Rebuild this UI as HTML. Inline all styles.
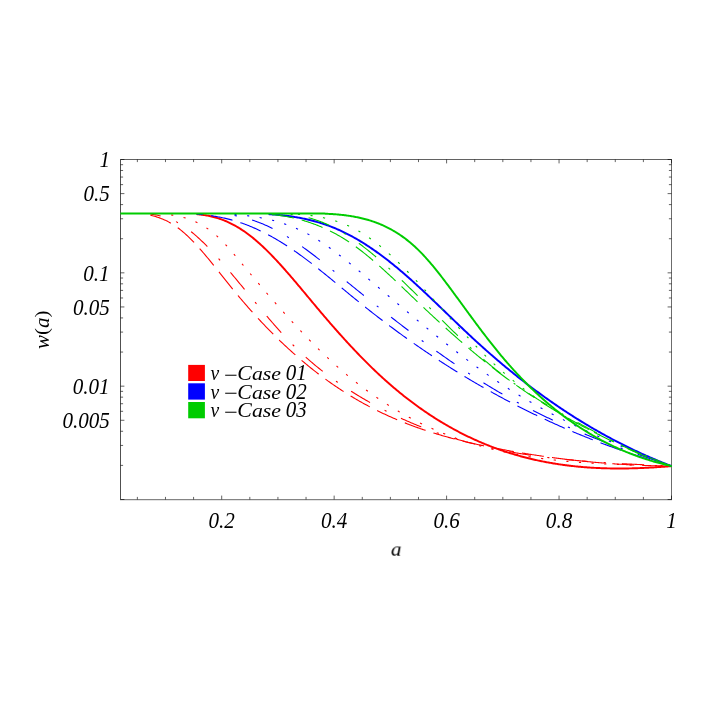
<!DOCTYPE html>
<html><head><meta charset="utf-8"><title>w(a)</title>
<style>
html,body{margin:0;padding:0;background:#fff;}
body{width:708px;height:708px;position:relative;overflow:hidden;font-family:"Liberation Serif",serif;}
</style></head><body>
<svg width="708" height="708" viewBox="0 0 708 708" style="position:absolute;left:0;top:0;will-change:transform">
<rect x="0" y="0" width="708" height="708" fill="#ffffff"/>
<g fill="none" stroke-width="1" stroke-linecap="square">
<path d="M120.5,159.5 V499.5" stroke="#505050"/>
<path d="M120.5,159.5 H671.5" stroke="#626262"/>
<path d="M671.5,159.5 V499.5" stroke="#6c6c6c"/>
<path d="M120.5,499.7 H671.5" stroke="#686868"/>
</g>
<g stroke="#000" stroke-width="0.62" fill="none">
<path d="M137.37,499.5 v-2.6 M137.37,159.5 v2.6 M165.48,499.5 v-2.6 M165.48,159.5 v2.6 M193.59,499.5 v-2.6 M193.59,159.5 v2.6 M221.70,499.5 v-3.9 M221.70,159.5 v3.9 M249.82,499.5 v-2.6 M249.82,159.5 v2.6 M277.93,499.5 v-2.6 M277.93,159.5 v2.6 M306.04,499.5 v-2.6 M306.04,159.5 v2.6 M334.15,499.5 v-3.9 M334.15,159.5 v3.9 M362.27,499.5 v-2.6 M362.27,159.5 v2.6 M390.38,499.5 v-2.6 M390.38,159.5 v2.6 M418.49,499.5 v-2.6 M418.49,159.5 v2.6 M446.60,499.5 v-3.9 M446.60,159.5 v3.9 M474.71,499.5 v-2.6 M474.71,159.5 v2.6 M502.83,499.5 v-2.6 M502.83,159.5 v2.6 M530.94,499.5 v-2.6 M530.94,159.5 v2.6 M559.05,499.5 v-3.9 M559.05,159.5 v3.9 M587.16,499.5 v-2.6 M587.16,159.5 v2.6 M615.28,499.5 v-2.6 M615.28,159.5 v2.6 M643.39,499.5 v-2.6 M643.39,159.5 v2.6 M671.50,499.5 v-3.9 M671.50,159.5 v3.9 M120.5,159.50 h3.9 M671.5,159.50 h-3.9 M120.5,272.83 h3.9 M671.5,272.83 h-3.9 M120.5,238.72 h2.6 M671.5,238.72 h-2.6 M120.5,218.76 h2.6 M671.5,218.76 h-2.6 M120.5,204.60 h2.6 M671.5,204.60 h-2.6 M120.5,193.62 h3.9 M671.5,193.62 h-3.9 M120.5,184.64 h2.6 M671.5,184.64 h-2.6 M120.5,177.06 h2.6 M671.5,177.06 h-2.6 M120.5,170.48 h2.6 M671.5,170.48 h-2.6 M120.5,164.69 h2.6 M671.5,164.69 h-2.6 M120.5,386.17 h3.9 M671.5,386.17 h-3.9 M120.5,352.05 h2.6 M671.5,352.05 h-2.6 M120.5,332.09 h2.6 M671.5,332.09 h-2.6 M120.5,317.93 h2.6 M671.5,317.93 h-2.6 M120.5,306.95 h3.9 M671.5,306.95 h-3.9 M120.5,297.98 h2.6 M671.5,297.98 h-2.6 M120.5,290.39 h2.6 M671.5,290.39 h-2.6 M120.5,283.82 h2.6 M671.5,283.82 h-2.6 M120.5,278.02 h2.6 M671.5,278.02 h-2.6 M120.5,499.50 h3.9 M671.5,499.50 h-3.9 M120.5,465.38 h2.6 M671.5,465.38 h-2.6 M120.5,445.43 h2.6 M671.5,445.43 h-2.6 M120.5,431.27 h2.6 M671.5,431.27 h-2.6 M120.5,420.28 h3.9 M671.5,420.28 h-3.9 M120.5,411.31 h2.6 M671.5,411.31 h-2.6 M120.5,403.72 h2.6 M671.5,403.72 h-2.6 M120.5,397.15 h2.6 M671.5,397.15 h-2.6 M120.5,391.35 h2.6 M671.5,391.35 h-2.6"/>
</g>
<clipPath id="cp"><rect x="120.2" y="159.5" width="551.9" height="340.0"/></clipPath>
<g clip-path="url(#cp)" fill="none" stroke-linecap="butt" stroke-linejoin="round">
<path d="M196.5,214.12 L197.5,214.21 L198.5,214.32 L199.5,214.43 L200.5,214.55 L201.5,214.67 L202.5,214.81 L203.5,214.96 L204.5,215.11 L205.5,215.28 L206.5,215.45 L207.5,215.64 L208.5,215.83 L209.5,216.04 L210.5,216.25 L211.5,216.48 L212.5,216.72 L213.5,216.97 L214.5,217.24 L215.5,217.52 L216.5,217.80 L217.5,218.11 L218.5,218.42 L219.5,218.75 L220.5,219.10 L221.5,219.45 L222.5,219.83 L223.5,220.21 L224.5,220.61 L225.5,221.02 L226.5,221.45 L227.5,221.89 L228.5,222.35 L229.5,222.82 L230.5,223.30 L231.5,223.80 L232.5,224.31 L233.5,224.84 L234.5,225.38 L235.5,225.93 L236.5,226.50 L237.5,227.08 L238.5,227.68 L239.5,228.29 L240.5,228.92 L241.5,229.56 L242.5,230.21 L243.5,230.88 L244.5,231.57 L245.5,232.27 L246.5,232.98 L247.5,233.71 L248.5,234.45 L249.5,235.21 L250.5,235.98 L251.5,236.77 L252.5,237.57 L253.5,238.38 L254.5,239.21 L255.5,240.05 L256.5,240.91 L257.5,241.78 L258.5,242.66 L259.5,243.55 L260.5,244.46 L261.5,245.38 L262.5,246.31 L263.5,247.25 L264.5,248.20 L265.5,249.17 L266.5,250.14 L267.5,251.13 L268.5,252.12 L269.5,253.13 L270.5,254.14 L271.5,255.17 L272.5,256.20 L273.5,257.24 L274.5,258.30 L275.5,259.36 L276.5,260.43 L277.5,261.50 L278.5,262.59 L279.5,263.68 L280.5,264.78 L281.5,265.89 L282.5,267.00 L283.5,268.12 L284.5,269.25 L285.5,270.38 L286.5,271.52 L287.5,272.66 L288.5,273.81 L289.5,274.96 L290.5,276.12 L291.5,277.28 L292.5,278.45 L293.5,279.62 L294.5,280.80 L295.5,281.97 L296.5,283.16 L297.5,284.34 L298.5,285.53 L299.5,286.72 L300.5,287.91 L301.5,289.10 L302.5,290.30 L303.5,291.50 L304.5,292.70 L305.5,293.90 L306.5,295.10 L307.5,296.30 L308.5,297.50 L309.5,298.70 L310.5,299.90 L311.5,301.10 L312.5,302.30 L313.5,303.50 L314.5,304.70 L315.5,305.89 L316.5,307.09 L317.5,308.28 L318.5,309.47 L319.5,310.66 L320.5,311.84 L321.5,313.02 L322.5,314.20 L323.5,315.38 L324.5,316.55 L325.5,317.72 L326.5,318.88 L327.5,320.05 L328.5,321.21 L329.5,322.36 L330.5,323.52 L331.5,324.67 L332.5,325.81 L333.5,326.96 L334.5,328.10 L335.5,329.23 L336.5,330.37 L337.5,331.49 L338.5,332.62 L339.5,333.74 L340.5,334.86 L341.5,335.97 L342.5,337.08 L343.5,338.19 L344.5,339.29 L345.5,340.39 L346.5,341.48 L347.5,342.57 L348.5,343.66 L349.5,344.74 L350.5,345.81 L351.5,346.89 L352.5,347.95 L353.5,349.02 L354.5,350.08 L355.5,351.13 L356.5,352.18 L357.5,353.23 L358.5,354.27 L359.5,355.31 L360.5,356.34 L361.5,357.36 L362.5,358.39 L363.5,359.40 L364.5,360.41 L365.5,361.42 L366.5,362.42 L367.5,363.42 L368.5,364.41 L369.5,365.40 L370.5,366.38 L371.5,367.35 L372.5,368.33 L373.5,369.29 L374.5,370.25 L375.5,371.20 L376.5,372.15 L377.5,373.10 L378.5,374.03 L379.5,374.97 L380.5,375.89 L381.5,376.81 L382.5,377.73 L383.5,378.64 L384.5,379.54 L385.5,380.44 L386.5,381.33 L387.5,382.22 L388.5,383.10 L389.5,383.97 L390.5,384.84 L391.5,385.71 L392.5,386.56 L393.5,387.42 L394.5,388.26 L395.5,389.11 L396.5,389.94 L397.5,390.77 L398.5,391.60 L399.5,392.42 L400.5,393.23 L401.5,394.04 L402.5,394.85 L403.5,395.65 L404.5,396.44 L405.5,397.23 L406.5,398.01 L407.5,398.79 L408.5,399.56 L409.5,400.32 L410.5,401.09 L411.5,401.84 L412.5,402.59 L413.5,403.34 L414.5,404.08 L415.5,404.81 L416.5,405.54 L417.5,406.27 L418.5,406.99 L419.5,407.70 L420.5,408.41 L421.5,409.12 L422.5,409.82 L423.5,410.51 L424.5,411.20 L425.5,411.88 L426.5,412.56 L427.5,413.24 L428.5,413.91 L429.5,414.57 L430.5,415.23 L431.5,415.88 L432.5,416.53 L433.5,417.18 L434.5,417.82 L435.5,418.45 L436.5,419.08 L437.5,419.71 L438.5,420.33 L439.5,420.94 L440.5,421.55 L441.5,422.16 L442.5,422.76 L443.5,423.36 L444.5,423.95 L445.5,424.53 L446.5,425.12 L447.5,425.69 L448.5,426.27 L449.5,426.83 L450.5,427.40 L451.5,427.96 L452.5,428.51 L453.5,429.06 L454.5,429.60 L455.5,430.14 L456.5,430.68 L457.5,431.21 L458.5,431.74 L459.5,432.26 L460.5,432.78 L461.5,433.29 L462.5,433.80 L463.5,434.30 L464.5,434.80 L465.5,435.30 L466.5,435.79 L467.5,436.28 L468.5,436.76 L469.5,437.24 L470.5,437.71 L471.5,438.18 L472.5,438.64 L473.5,439.10 L474.5,439.56 L475.5,440.01 L476.5,440.46 L477.5,440.90 L478.5,441.34 L479.5,441.78 L480.5,442.21 L481.5,442.64 L482.5,443.06 L483.5,443.48 L484.5,443.89 L485.5,444.30 L486.5,444.71 L487.5,445.11 L488.5,445.51 L489.5,445.90 L490.5,446.29 L491.5,446.68 L492.5,447.06 L493.5,447.44 L494.5,447.81 L495.5,448.18 L496.5,448.55 L497.5,448.91 L498.5,449.27 L499.5,449.63 L500.5,449.98 L501.5,450.32 L502.5,450.67 L503.5,451.00 L504.5,451.34 L505.5,451.67 L506.5,452.00 L507.5,452.32 L508.5,452.64 L509.5,452.96 L510.5,453.27 L511.5,453.58 L512.5,453.89 L513.5,454.19 L514.5,454.49 L515.5,454.78 L516.5,455.07 L517.5,455.36 L518.5,455.64 L519.5,455.92 L520.5,456.20 L521.5,456.47 L522.5,456.74 L523.5,457.01 L524.5,457.27 L525.5,457.53 L526.5,457.78 L527.5,458.03 L528.5,458.28 L529.5,458.53 L530.5,458.77 L531.5,459.01 L532.5,459.24 L533.5,459.47 L534.5,459.70 L535.5,459.93 L536.5,460.15 L537.5,460.37 L538.5,460.58 L539.5,460.79 L540.5,461.00 L541.5,461.21 L542.5,461.41 L543.5,461.61 L544.5,461.80 L545.5,461.99 L546.5,462.18 L547.5,462.37 L548.5,462.55 L549.5,462.73 L550.5,462.91 L551.5,463.08 L552.5,463.25 L553.5,463.42 L554.5,463.58 L555.5,463.75 L556.5,463.90 L557.5,464.06 L558.5,464.21 L559.5,464.36 L560.5,464.51 L561.5,464.65 L562.5,464.79 L563.5,464.93 L564.5,465.06 L565.5,465.20 L566.5,465.33 L567.5,465.45 L568.5,465.58 L569.5,465.70 L570.5,465.81 L571.5,465.93 L572.5,466.04 L573.5,466.15 L574.5,466.26 L575.5,466.36 L576.5,466.46 L577.5,466.56 L578.5,466.66 L579.5,466.75 L580.5,466.84 L581.5,466.93 L582.5,467.02 L583.5,467.10 L584.5,467.18 L585.5,467.26 L586.5,467.33 L587.5,467.41 L588.5,467.48 L589.5,467.54 L590.5,467.61 L591.5,467.67 L592.5,467.73 L593.5,467.79 L594.5,467.85 L595.5,467.90 L596.5,467.95 L597.5,468.00 L598.5,468.05 L599.5,468.09 L600.5,468.13 L601.5,468.17 L602.5,468.21 L603.5,468.24 L604.5,468.27 L605.5,468.30 L606.5,468.33 L607.5,468.36 L608.5,468.38 L609.5,468.40 L610.5,468.42 L611.5,468.44 L612.5,468.45 L613.5,468.47 L614.5,468.48 L615.5,468.48 L616.5,468.49 L617.5,468.49 L618.5,468.50 L619.5,468.50 L620.5,468.50 L621.5,468.49 L622.5,468.49 L623.5,468.48 L624.5,468.47 L625.5,468.46 L626.5,468.44 L627.5,468.43 L628.5,468.41 L629.5,468.39 L630.5,468.37 L631.5,468.35 L632.5,468.32 L633.5,468.30 L634.5,468.27 L635.5,468.24 L636.5,468.21 L637.5,468.17 L638.5,468.14 L639.5,468.10 L640.5,468.06 L641.5,468.02 L642.5,467.98 L643.5,467.93 L644.5,467.89 L645.5,467.84 L646.5,467.79 L647.5,467.74 L648.5,467.69 L649.5,467.64 L650.5,467.58 L651.5,467.53 L652.5,467.47 L653.5,467.41 L654.5,467.35 L655.5,467.28 L656.5,467.22 L657.5,467.15 L658.5,467.09 L659.5,467.02 L660.5,466.95 L661.5,466.88 L662.5,466.81 L663.5,466.73 L664.5,466.66 L665.5,466.58 L666.5,466.50 L667.5,466.42 L668.5,466.34 L669.5,466.26 L670.5,466.18 L671.5,466.10 L672.1,466.10" stroke="#ff0000" stroke-width="1.95"/>
<path d="M163.5,214.09 L164.5,214.18 L165.5,214.26 L166.5,214.36 L167.5,214.46 L168.5,214.57 L169.5,214.69 L170.5,214.82 L171.5,214.96 L172.5,215.11 L173.5,215.27 L174.5,215.43 L175.5,215.61 L176.5,215.80 L177.5,216.00 L178.5,216.21 L179.5,216.43 L180.5,216.66 L181.5,216.91 L182.5,217.17 L183.5,217.44 L184.5,217.72 L185.5,218.02 L186.5,218.33 L187.5,218.65 L188.5,218.99 L189.5,219.35 L190.5,219.72 L191.5,220.10 L192.5,220.50 L193.5,220.92 L194.5,221.35 L195.5,221.80 L196.5,222.27 L197.5,222.75 L198.5,223.25 L199.5,223.77 L200.5,224.31 L201.5,224.87 L202.5,225.44 L203.5,226.04 L204.5,226.65 L205.5,227.29 L206.5,227.94 L207.5,228.62 L208.5,229.32 L209.5,230.04 L210.5,230.78 L211.5,231.54 L212.5,232.32 L213.5,233.13 L214.5,233.96 L215.5,234.82 L216.5,235.70 L217.5,236.60 L218.5,237.53 L219.5,238.48 L220.5,239.45 L221.5,240.44 L222.5,241.46 L223.5,242.49 L224.5,243.54 L225.5,244.60 L226.5,245.69 L227.5,246.78 L228.5,247.89 L229.5,249.02 L230.5,250.16 L231.5,251.30 L232.5,252.46 L233.5,253.63 L234.5,254.80 L235.5,255.99 L236.5,257.18 L237.5,258.37 L238.5,259.57 L239.5,260.77 L240.5,261.97 L241.5,263.18 L242.5,264.39 L243.5,265.59 L244.5,266.79 L245.5,268.00 L246.5,269.20 L247.5,270.40 L248.5,271.59 L249.5,272.79 L250.5,273.99 L251.5,275.18 L252.5,276.37 L253.5,277.56 L254.5,278.75 L255.5,279.93 L256.5,281.12 L257.5,282.30 L258.5,283.48 L259.5,284.66 L260.5,285.84 L261.5,287.01 L262.5,288.18 L263.5,289.35 L264.5,290.52 L265.5,291.69 L266.5,292.85 L267.5,294.01 L268.5,295.17 L269.5,296.33 L270.5,297.48 L271.5,298.63 L272.5,299.78 L273.5,300.92 L274.5,302.07 L275.5,303.21 L276.5,304.35 L277.5,305.48 L278.5,306.61 L279.5,307.74 L280.5,308.87 L281.5,309.99 L282.5,311.11 L283.5,312.23 L284.5,313.34 L285.5,314.46 L286.5,315.56 L287.5,316.67 L288.5,317.77 L289.5,318.87 L290.5,319.96 L291.5,321.05 L292.5,322.14 L293.5,323.23 L294.5,324.31 L295.5,325.39 L296.5,326.46 L297.5,327.53 L298.5,328.60 L299.5,329.66 L300.5,330.72 L301.5,331.77 L302.5,332.82 L303.5,333.87 L304.5,334.91 L305.5,335.95 L306.5,336.99 L307.5,338.02 L308.5,339.05 L309.5,340.07 L310.5,341.09 L311.5,342.10 L312.5,343.11 L313.5,344.12 L314.5,345.12 L315.5,346.12 L316.5,347.11 L317.5,348.10 L318.5,349.08 L319.5,350.06 L320.5,351.03 L321.5,352.00 L322.5,352.96 L323.5,353.92 L324.5,354.88 L325.5,355.83 L326.5,356.77 L327.5,357.71 L328.5,358.65 L329.5,359.58 L330.5,360.50 L331.5,361.42 L332.5,362.34 L333.5,363.24 L334.5,364.15 L335.5,365.05 L336.5,365.94 L337.5,366.83 L338.5,367.71 L339.5,368.59 L340.5,369.46 L341.5,370.32 L342.5,371.18 L343.5,372.04 L344.5,372.89 L345.5,373.73 L346.5,374.57 L347.5,375.41 L348.5,376.23 L349.5,377.06 L350.5,377.88 L351.5,378.69 L352.5,379.50 L353.5,380.30 L354.5,381.10 L355.5,381.89 L356.5,382.68 L357.5,383.46 L358.5,384.23 L359.5,385.01 L360.5,385.77 L361.5,386.53 L362.5,387.29 L363.5,388.04 L364.5,388.79 L365.5,389.53 L366.5,390.27 L367.5,391.00 L368.5,391.72 L369.5,392.45 L370.5,393.16 L371.5,393.87 L372.5,394.58 L373.5,395.28 L374.5,395.98 L375.5,396.67 L376.5,397.36 L377.5,398.04 L378.5,398.72 L379.5,399.40 L380.5,400.07 L381.5,400.73 L382.5,401.39 L383.5,402.04 L384.5,402.69 L385.5,403.34 L386.5,403.98 L387.5,404.62 L388.5,405.25 L389.5,405.88 L390.5,406.50 L391.5,407.12 L392.5,407.73 L393.5,408.34 L394.5,408.94 L395.5,409.54 L396.5,410.14 L397.5,410.73 L398.5,411.32 L399.5,411.90 L400.5,412.48 L401.5,413.05 L402.5,413.62 L403.5,414.19 L404.5,414.75 L405.5,415.30 L406.5,415.85 L407.5,416.40 L408.5,416.95 L409.5,417.49 L410.5,418.02 L411.5,418.55 L412.5,419.08 L413.5,419.60 L414.5,420.12 L415.5,420.63 L416.5,421.14 L417.5,421.65 L418.5,422.15 L419.5,422.65 L420.5,423.15 L421.5,423.64 L422.5,424.12 L423.5,424.60 L424.5,425.08 L425.5,425.56 L426.5,426.03 L427.5,426.49 L428.5,426.96 L429.5,427.41 L430.5,427.87 L431.5,428.32 L432.5,428.77 L433.5,429.21 L434.5,429.65 L435.5,430.09 L436.5,430.52 L437.5,430.95 L438.5,431.37 L439.5,431.79 L440.5,432.21 L441.5,432.62 L442.5,433.03 L443.5,433.44 L444.5,433.84 L445.5,434.24 L446.5,434.64 L447.5,435.03 L448.5,435.42 L449.5,435.80 L450.5,436.18 L451.5,436.56 L452.5,436.94 L453.5,437.31 L454.5,437.67 L455.5,438.04 L456.5,438.40 L457.5,438.76 L458.5,439.11 L459.5,439.46 L460.5,439.81 L461.5,440.15 L462.5,440.49 L463.5,440.83 L464.5,441.17 L465.5,441.50 L466.5,441.82 L467.5,442.15 L468.5,442.47 L469.5,442.79 L470.5,443.10 L471.5,443.41 L472.5,443.72 L473.5,444.03 L474.5,444.33 L475.5,444.63 L476.5,444.93 L477.5,445.22 L478.5,445.51 L479.5,445.80 L480.5,446.08 L481.5,446.36 L482.5,446.64 L483.5,446.92 L484.5,447.19 L485.5,447.46 L486.5,447.73 L487.5,447.99 L488.5,448.25 L489.5,448.51 L490.5,448.76 L491.5,449.02 L492.5,449.27 L493.5,449.51 L494.5,449.76 L495.5,450.00 L496.5,450.24 L497.5,450.47 L498.5,450.71 L499.5,450.94 L500.5,451.17 L501.5,451.39 L502.5,451.62 L503.5,451.84 L504.5,452.05 L505.5,452.27 L506.5,452.48 L507.5,452.69 L508.5,452.90 L509.5,453.10 L510.5,453.31 L511.5,453.51 L512.5,453.71 L513.5,453.90 L514.5,454.09 L515.5,454.28 L516.5,454.47 L517.5,454.66 L518.5,454.84 L519.5,455.02 L520.5,455.20 L521.5,455.38 L522.5,455.55 L523.5,455.73 L524.5,455.90 L525.5,456.07 L526.5,456.23 L527.5,456.39 L528.5,456.56 L529.5,456.71 L530.5,456.87 L531.5,457.03 L532.5,457.18 L533.5,457.33 L534.5,457.48 L535.5,457.63 L536.5,457.77 L537.5,457.91 L538.5,458.05 L539.5,458.19 L540.5,458.33 L541.5,458.47 L542.5,458.60 L543.5,458.73 L544.5,458.86 L545.5,458.99 L546.5,459.11 L547.5,459.24 L548.5,459.36 L549.5,459.48 L550.5,459.60 L551.5,459.71 L552.5,459.83 L553.5,459.94 L554.5,460.05 L555.5,460.16 L556.5,460.27 L557.5,460.38 L558.5,460.48 L559.5,460.59 L560.5,460.69 L561.5,460.79 L562.5,460.89 L563.5,460.98 L564.5,461.08 L565.5,461.17 L566.5,461.26 L567.5,461.36 L568.5,461.45 L569.5,461.53 L570.5,461.62 L571.5,461.71 L572.5,461.79 L573.5,461.87 L574.5,461.95 L575.5,462.03 L576.5,462.11 L577.5,462.19 L578.5,462.26 L579.5,462.34 L580.5,462.41 L581.5,462.48 L582.5,462.56 L583.5,462.63 L584.5,462.69 L585.5,462.76 L586.5,462.83 L587.5,462.89 L588.5,462.96 L589.5,463.02 L590.5,463.08 L591.5,463.14 L592.5,463.20 L593.5,463.26 L594.5,463.32 L595.5,463.37 L596.5,463.43 L597.5,463.49 L598.5,463.54 L599.5,463.59 L600.5,463.64 L601.5,463.70 L602.5,463.75 L603.5,463.80 L604.5,463.84 L605.5,463.89 L606.5,463.94 L607.5,463.99 L608.5,464.03 L609.5,464.08 L610.5,464.12 L611.5,464.16 L612.5,464.21 L613.5,464.25 L614.5,464.29 L615.5,464.33 L616.5,464.37 L617.5,464.41 L618.5,464.45 L619.5,464.49 L620.5,464.52 L621.5,464.56 L622.5,464.60 L623.5,464.63 L624.5,464.67 L625.5,464.70 L626.5,464.74 L627.5,464.77 L628.5,464.81 L629.5,464.84 L630.5,464.87 L631.5,464.91 L632.5,464.94 L633.5,464.97 L634.5,465.00 L635.5,465.03 L636.5,465.06 L637.5,465.10 L638.5,465.13 L639.5,465.16 L640.5,465.19 L641.5,465.22 L642.5,465.25 L643.5,465.28 L644.5,465.31 L645.5,465.34 L646.5,465.36 L647.5,465.39 L648.5,465.42 L649.5,465.45 L650.5,465.48 L651.5,465.51 L652.5,465.54 L653.5,465.57 L654.5,465.60 L655.5,465.63 L656.5,465.66 L657.5,465.69 L658.5,465.72 L659.5,465.74 L660.5,465.77 L661.5,465.80 L662.5,465.83 L663.5,465.86 L664.5,465.90 L665.5,465.93 L666.5,465.96 L667.5,465.99 L668.5,466.02 L669.5,466.05 L670.5,466.08 L671.5,466.12 L672.1,466.12" stroke="#ff0000" stroke-width="1.1" stroke-dasharray="2.20,10.47" stroke-dashoffset="43.02"/>
<path d="M150.5,214.16 L151.5,214.28 L152.5,214.41 L153.5,214.55 L154.5,214.71 L155.5,214.87 L156.5,215.05 L157.5,215.24 L158.5,215.45 L159.5,215.67 L160.5,215.90 L161.5,216.15 L162.5,216.41 L163.5,216.68 L164.5,216.98 L165.5,217.29 L166.5,217.61 L167.5,217.96 L168.5,218.32 L169.5,218.70 L170.5,219.09 L171.5,219.51 L172.5,219.94 L173.5,220.40 L174.5,220.87 L175.5,221.36 L176.5,221.88 L177.5,222.41 L178.5,222.97 L179.5,223.55 L180.5,224.14 L181.5,224.76 L182.5,225.40 L183.5,226.05 L184.5,226.73 L185.5,227.42 L186.5,228.14 L187.5,228.87 L188.5,229.61 L189.5,230.38 L190.5,231.16 L191.5,231.96 L192.5,232.78 L193.5,233.61 L194.5,234.45 L195.5,235.32 L196.5,236.19 L197.5,237.08 L198.5,237.99 L199.5,238.91 L200.5,239.84 L201.5,240.79 L202.5,241.75 L203.5,242.72 L204.5,243.71 L205.5,244.70 L206.5,245.71 L207.5,246.73 L208.5,247.76 L209.5,248.80 L210.5,249.85 L211.5,250.91 L212.5,251.98 L213.5,253.06 L214.5,254.15 L215.5,255.25 L216.5,256.35 L217.5,257.46 L218.5,258.58 L219.5,259.71 L220.5,260.85 L221.5,261.99 L222.5,263.13 L223.5,264.29 L224.5,265.45 L225.5,266.61 L226.5,267.78 L227.5,268.95 L228.5,270.13 L229.5,271.31 L230.5,272.49 L231.5,273.68 L232.5,274.87 L233.5,276.07 L234.5,277.26 L235.5,278.46 L236.5,279.66 L237.5,280.87 L238.5,282.07 L239.5,283.28 L240.5,284.49 L241.5,285.70 L242.5,286.91 L243.5,288.12 L244.5,289.33 L245.5,290.54 L246.5,291.75 L247.5,292.97 L248.5,294.18 L249.5,295.39 L250.5,296.60 L251.5,297.82 L252.5,299.03 L253.5,300.24 L254.5,301.44 L255.5,302.65 L256.5,303.86 L257.5,305.06 L258.5,306.26 L259.5,307.46 L260.5,308.66 L261.5,309.85 L262.5,311.04 L263.5,312.23 L264.5,313.41 L265.5,314.60 L266.5,315.77 L267.5,316.95 L268.5,318.12 L269.5,319.28 L270.5,320.45 L271.5,321.60 L272.5,322.76 L273.5,323.90 L274.5,325.04 L275.5,326.18 L276.5,327.31 L277.5,328.44 L278.5,329.56 L279.5,330.67 L280.5,331.78 L281.5,332.88 L282.5,333.97 L283.5,335.06 L284.5,336.14 L285.5,337.21 L286.5,338.28 L287.5,339.34 L288.5,340.39 L289.5,341.43 L290.5,342.46 L291.5,343.49 L292.5,344.50 L293.5,345.51 L294.5,346.51 L295.5,347.50 L296.5,348.48 L297.5,349.45 L298.5,350.41 L299.5,351.37 L300.5,352.32 L301.5,353.25 L302.5,354.18 L303.5,355.10 L304.5,356.02 L305.5,356.92 L306.5,357.82 L307.5,358.71 L308.5,359.59 L309.5,360.46 L310.5,361.33 L311.5,362.19 L312.5,363.04 L313.5,363.89 L314.5,364.72 L315.5,365.55 L316.5,366.38 L317.5,367.19 L318.5,368.00 L319.5,368.80 L320.5,369.60 L321.5,370.39 L322.5,371.17 L323.5,371.95 L324.5,372.72 L325.5,373.48 L326.5,374.24 L327.5,374.99 L328.5,375.73 L329.5,376.47 L330.5,377.21 L331.5,377.94 L332.5,378.66 L333.5,379.38 L334.5,380.09 L335.5,380.79 L336.5,381.50 L337.5,382.19 L338.5,382.88 L339.5,383.57 L340.5,384.25 L341.5,384.93 L342.5,385.60 L343.5,386.26 L344.5,386.93 L345.5,387.58 L346.5,388.24 L347.5,388.89 L348.5,389.53 L349.5,390.17 L350.5,390.81 L351.5,391.44 L352.5,392.07 L353.5,392.70 L354.5,393.32 L355.5,393.94 L356.5,394.55 L357.5,395.16 L358.5,395.77 L359.5,396.37 L360.5,396.97 L361.5,397.57 L362.5,398.16 L363.5,398.75 L364.5,399.33 L365.5,399.91 L366.5,400.49 L367.5,401.07 L368.5,401.64 L369.5,402.20 L370.5,402.76 L371.5,403.32 L372.5,403.88 L373.5,404.43 L374.5,404.98 L375.5,405.53 L376.5,406.07 L377.5,406.60 L378.5,407.14 L379.5,407.67 L380.5,408.20 L381.5,408.72 L382.5,409.24 L383.5,409.76 L384.5,410.27 L385.5,410.78 L386.5,411.29 L387.5,411.79 L388.5,412.29 L389.5,412.79 L390.5,413.28 L391.5,413.77 L392.5,414.26 L393.5,414.74 L394.5,415.23 L395.5,415.70 L396.5,416.18 L397.5,416.65 L398.5,417.11 L399.5,417.58 L400.5,418.04 L401.5,418.50 L402.5,418.95 L403.5,419.40 L404.5,419.85 L405.5,420.29 L406.5,420.74 L407.5,421.17 L408.5,421.61 L409.5,422.04 L410.5,422.47 L411.5,422.90 L412.5,423.32 L413.5,423.74 L414.5,424.16 L415.5,424.57 L416.5,424.98 L417.5,425.39 L418.5,425.79 L419.5,426.20 L420.5,426.59 L421.5,426.99 L422.5,427.38 L423.5,427.77 L424.5,428.16 L425.5,428.55 L426.5,428.93 L427.5,429.30 L428.5,429.68 L429.5,430.05 L430.5,430.42 L431.5,430.79 L432.5,431.15 L433.5,431.52 L434.5,431.87 L435.5,432.23 L436.5,432.58 L437.5,432.93 L438.5,433.28 L439.5,433.63 L440.5,433.97 L441.5,434.31 L442.5,434.64 L443.5,434.98 L444.5,435.31 L445.5,435.64 L446.5,435.96 L447.5,436.29 L448.5,436.61 L449.5,436.93 L450.5,437.24 L451.5,437.55 L452.5,437.87 L453.5,438.17 L454.5,438.48 L455.5,438.78 L456.5,439.08 L457.5,439.38 L458.5,439.67 L459.5,439.97 L460.5,440.26 L461.5,440.55 L462.5,440.83 L463.5,441.11 L464.5,441.39 L465.5,441.67 L466.5,441.95 L467.5,442.22 L468.5,442.49 L469.5,442.76 L470.5,443.03 L471.5,443.29 L472.5,443.55 L473.5,443.81 L474.5,444.07 L475.5,444.32 L476.5,444.58 L477.5,444.83 L478.5,445.07 L479.5,445.32 L480.5,445.56 L481.5,445.80 L482.5,446.04 L483.5,446.28 L484.5,446.52 L485.5,446.75 L486.5,446.98 L487.5,447.21 L488.5,447.43 L489.5,447.66 L490.5,447.88 L491.5,448.10 L492.5,448.32 L493.5,448.53 L494.5,448.75 L495.5,448.96 L496.5,449.17 L497.5,449.38 L498.5,449.58 L499.5,449.78 L500.5,449.99 L501.5,450.19 L502.5,450.38 L503.5,450.58 L504.5,450.77 L505.5,450.97 L506.5,451.16 L507.5,451.34 L508.5,451.53 L509.5,451.71 L510.5,451.90 L511.5,452.08 L512.5,452.26 L513.5,452.43 L514.5,452.61 L515.5,452.78 L516.5,452.96 L517.5,453.13 L518.5,453.29 L519.5,453.46 L520.5,453.63 L521.5,453.79 L522.5,453.95 L523.5,454.11 L524.5,454.27 L525.5,454.42 L526.5,454.58 L527.5,454.73 L528.5,454.88 L529.5,455.03 L530.5,455.18 L531.5,455.33 L532.5,455.47 L533.5,455.62 L534.5,455.76 L535.5,455.90 L536.5,456.04 L537.5,456.18 L538.5,456.31 L539.5,456.45 L540.5,456.58 L541.5,456.71 L542.5,456.84 L543.5,456.97 L544.5,457.10 L545.5,457.23 L546.5,457.35 L547.5,457.47 L548.5,457.60 L549.5,457.72 L550.5,457.83 L551.5,457.95 L552.5,458.07 L553.5,458.18 L554.5,458.30 L555.5,458.41 L556.5,458.52 L557.5,458.63 L558.5,458.74 L559.5,458.85 L560.5,458.95 L561.5,459.06 L562.5,459.16 L563.5,459.27 L564.5,459.37 L565.5,459.47 L566.5,459.57 L567.5,459.67 L568.5,459.76 L569.5,459.86 L570.5,459.95 L571.5,460.05 L572.5,460.14 L573.5,460.23 L574.5,460.32 L575.5,460.41 L576.5,460.50 L577.5,460.59 L578.5,460.67 L579.5,460.76 L580.5,460.84 L581.5,460.93 L582.5,461.01 L583.5,461.09 L584.5,461.17 L585.5,461.25 L586.5,461.33 L587.5,461.41 L588.5,461.49 L589.5,461.56 L590.5,461.64 L591.5,461.71 L592.5,461.79 L593.5,461.86 L594.5,461.93 L595.5,462.01 L596.5,462.08 L597.5,462.15 L598.5,462.22 L599.5,462.28 L600.5,462.35 L601.5,462.42 L602.5,462.49 L603.5,462.55 L604.5,462.62 L605.5,462.68 L606.5,462.74 L607.5,462.81 L608.5,462.87 L609.5,462.93 L610.5,462.99 L611.5,463.05 L612.5,463.11 L613.5,463.17 L614.5,463.23 L615.5,463.29 L616.5,463.35 L617.5,463.41 L618.5,463.46 L619.5,463.52 L620.5,463.58 L621.5,463.63 L622.5,463.69 L623.5,463.74 L624.5,463.80 L625.5,463.85 L626.5,463.90 L627.5,463.96 L628.5,464.01 L629.5,464.06 L630.5,464.11 L631.5,464.16 L632.5,464.22 L633.5,464.27 L634.5,464.32 L635.5,464.37 L636.5,464.42 L637.5,464.47 L638.5,464.52 L639.5,464.57 L640.5,464.62 L641.5,464.67 L642.5,464.72 L643.5,464.76 L644.5,464.81 L645.5,464.86 L646.5,464.91 L647.5,464.96 L648.5,465.00 L649.5,465.05 L650.5,465.10 L651.5,465.15 L652.5,465.20 L653.5,465.24 L654.5,465.29 L655.5,465.34 L656.5,465.39 L657.5,465.43 L658.5,465.48 L659.5,465.53 L660.5,465.58 L661.5,465.62 L662.5,465.67 L663.5,465.72 L664.5,465.77 L665.5,465.81 L666.5,465.86 L667.5,465.91 L668.5,465.96 L669.5,466.01 L670.5,466.06 L671.5,466.10 L672.1,466.10" stroke="#ff0000" stroke-width="1.1" stroke-dasharray="2.20,15.98,22.04,16.53" stroke-dashoffset="30.03"/>
<path d="M143.5,214.10 L144.5,214.23 L145.5,214.38 L146.5,214.53 L147.5,214.70 L148.5,214.88 L149.5,215.08 L150.5,215.29 L151.5,215.52 L152.5,215.76 L153.5,216.01 L154.5,216.28 L155.5,216.57 L156.5,216.87 L157.5,217.19 L158.5,217.53 L159.5,217.88 L160.5,218.25 L161.5,218.64 L162.5,219.04 L163.5,219.47 L164.5,219.91 L165.5,220.37 L166.5,220.86 L167.5,221.36 L168.5,221.88 L169.5,222.42 L170.5,222.98 L171.5,223.57 L172.5,224.17 L173.5,224.80 L174.5,225.45 L175.5,226.12 L176.5,226.82 L177.5,227.54 L178.5,228.28 L179.5,229.04 L180.5,229.83 L181.5,230.64 L182.5,231.47 L183.5,232.32 L184.5,233.20 L185.5,234.09 L186.5,235.00 L187.5,235.93 L188.5,236.89 L189.5,237.85 L190.5,238.84 L191.5,239.84 L192.5,240.86 L193.5,241.89 L194.5,242.94 L195.5,244.01 L196.5,245.09 L197.5,246.18 L198.5,247.28 L199.5,248.40 L200.5,249.53 L201.5,250.67 L202.5,251.83 L203.5,252.99 L204.5,254.16 L205.5,255.34 L206.5,256.54 L207.5,257.73 L208.5,258.94 L209.5,260.16 L210.5,261.38 L211.5,262.60 L212.5,263.84 L213.5,265.07 L214.5,266.32 L215.5,267.56 L216.5,268.81 L217.5,270.06 L218.5,271.32 L219.5,272.58 L220.5,273.83 L221.5,275.09 L222.5,276.35 L223.5,277.61 L224.5,278.87 L225.5,280.13 L226.5,281.38 L227.5,282.63 L228.5,283.88 L229.5,285.13 L230.5,286.37 L231.5,287.61 L232.5,288.84 L233.5,290.07 L234.5,291.29 L235.5,292.50 L236.5,293.71 L237.5,294.91 L238.5,296.11 L239.5,297.30 L240.5,298.49 L241.5,299.67 L242.5,300.84 L243.5,302.01 L244.5,303.17 L245.5,304.33 L246.5,305.48 L247.5,306.63 L248.5,307.77 L249.5,308.90 L250.5,310.03 L251.5,311.15 L252.5,312.27 L253.5,313.38 L254.5,314.48 L255.5,315.58 L256.5,316.68 L257.5,317.77 L258.5,318.85 L259.5,319.93 L260.5,321.00 L261.5,322.07 L262.5,323.13 L263.5,324.18 L264.5,325.23 L265.5,326.28 L266.5,327.31 L267.5,328.35 L268.5,329.38 L269.5,330.40 L270.5,331.41 L271.5,332.42 L272.5,333.43 L273.5,334.43 L274.5,335.43 L275.5,336.41 L276.5,337.40 L277.5,338.38 L278.5,339.35 L279.5,340.32 L280.5,341.28 L281.5,342.24 L282.5,343.19 L283.5,344.13 L284.5,345.08 L285.5,346.01 L286.5,346.94 L287.5,347.87 L288.5,348.79 L289.5,349.70 L290.5,350.61 L291.5,351.51 L292.5,352.41 L293.5,353.30 L294.5,354.19 L295.5,355.08 L296.5,355.95 L297.5,356.83 L298.5,357.69 L299.5,358.55 L300.5,359.41 L301.5,360.26 L302.5,361.11 L303.5,361.95 L304.5,362.79 L305.5,363.62 L306.5,364.44 L307.5,365.26 L308.5,366.08 L309.5,366.89 L310.5,367.70 L311.5,368.50 L312.5,369.29 L313.5,370.08 L314.5,370.87 L315.5,371.65 L316.5,372.42 L317.5,373.19 L318.5,373.96 L319.5,374.72 L320.5,375.48 L321.5,376.23 L322.5,376.97 L323.5,377.71 L324.5,378.45 L325.5,379.18 L326.5,379.90 L327.5,380.63 L328.5,381.34 L329.5,382.05 L330.5,382.76 L331.5,383.46 L332.5,384.16 L333.5,384.85 L334.5,385.54 L335.5,386.22 L336.5,386.89 L337.5,387.57 L338.5,388.23 L339.5,388.90 L340.5,389.56 L341.5,390.21 L342.5,390.86 L343.5,391.50 L344.5,392.14 L345.5,392.78 L346.5,393.41 L347.5,394.03 L348.5,394.65 L349.5,395.27 L350.5,395.88 L351.5,396.48 L352.5,397.09 L353.5,397.68 L354.5,398.28 L355.5,398.87 L356.5,399.45 L357.5,400.03 L358.5,400.61 L359.5,401.18 L360.5,401.74 L361.5,402.31 L362.5,402.86 L363.5,403.42 L364.5,403.97 L365.5,404.51 L366.5,405.05 L367.5,405.59 L368.5,406.12 L369.5,406.65 L370.5,407.18 L371.5,407.70 L372.5,408.21 L373.5,408.73 L374.5,409.24 L375.5,409.74 L376.5,410.24 L377.5,410.74 L378.5,411.23 L379.5,411.72 L380.5,412.20 L381.5,412.68 L382.5,413.16 L383.5,413.63 L384.5,414.10 L385.5,414.57 L386.5,415.03 L387.5,415.49 L388.5,415.94 L389.5,416.39 L390.5,416.84 L391.5,417.28 L392.5,417.72 L393.5,418.16 L394.5,418.59 L395.5,419.02 L396.5,419.45 L397.5,419.87 L398.5,420.29 L399.5,420.71 L400.5,421.12 L401.5,421.53 L402.5,421.93 L403.5,422.33 L404.5,422.73 L405.5,423.13 L406.5,423.52 L407.5,423.91 L408.5,424.29 L409.5,424.68 L410.5,425.06 L411.5,425.43 L412.5,425.81 L413.5,426.18 L414.5,426.54 L415.5,426.91 L416.5,427.27 L417.5,427.62 L418.5,427.98 L419.5,428.33 L420.5,428.68 L421.5,429.03 L422.5,429.37 L423.5,429.71 L424.5,430.05 L425.5,430.38 L426.5,430.71 L427.5,431.04 L428.5,431.37 L429.5,431.69 L430.5,432.01 L431.5,432.33 L432.5,432.64 L433.5,432.96 L434.5,433.27 L435.5,433.58 L436.5,433.88 L437.5,434.18 L438.5,434.48 L439.5,434.78 L440.5,435.08 L441.5,435.37 L442.5,435.66 L443.5,435.95 L444.5,436.23 L445.5,436.51 L446.5,436.79 L447.5,437.07 L448.5,437.35 L449.5,437.62 L450.5,437.89 L451.5,438.16 L452.5,438.43 L453.5,438.70 L454.5,438.96 L455.5,439.22 L456.5,439.48 L457.5,439.74 L458.5,439.99 L459.5,440.24 L460.5,440.49 L461.5,440.74 L462.5,440.99 L463.5,441.23 L464.5,441.48 L465.5,441.72 L466.5,441.96 L467.5,442.19 L468.5,442.43 L469.5,442.66 L470.5,442.89 L471.5,443.12 L472.5,443.35 L473.5,443.58 L474.5,443.81 L475.5,444.03 L476.5,444.25 L477.5,444.47 L478.5,444.69 L479.5,444.91 L480.5,445.12 L481.5,445.34 L482.5,445.55 L483.5,445.76 L484.5,445.97 L485.5,446.18 L486.5,446.39 L487.5,446.59 L488.5,446.80 L489.5,447.00 L490.5,447.20 L491.5,447.40 L492.5,447.60 L493.5,447.80 L494.5,447.99 L495.5,448.19 L496.5,448.38 L497.5,448.58 L498.5,448.77 L499.5,448.96 L500.5,449.15 L501.5,449.34 L502.5,449.53 L503.5,449.71 L504.5,449.90 L505.5,450.08 L506.5,450.27 L507.5,450.45 L508.5,450.63 L509.5,450.81 L510.5,450.99 L511.5,451.17 L512.5,451.35 L513.5,451.52 L514.5,451.70 L515.5,451.87 L516.5,452.05 L517.5,452.22 L518.5,452.39 L519.5,452.56 L520.5,452.73 L521.5,452.89 L522.5,453.06 L523.5,453.23 L524.5,453.39 L525.5,453.55 L526.5,453.72 L527.5,453.88 L528.5,454.04 L529.5,454.20 L530.5,454.36 L531.5,454.51 L532.5,454.67 L533.5,454.82 L534.5,454.98 L535.5,455.13 L536.5,455.28 L537.5,455.43 L538.5,455.58 L539.5,455.73 L540.5,455.88 L541.5,456.02 L542.5,456.17 L543.5,456.31 L544.5,456.46 L545.5,456.60 L546.5,456.74 L547.5,456.88 L548.5,457.02 L549.5,457.16 L550.5,457.29 L551.5,457.43 L552.5,457.57 L553.5,457.70 L554.5,457.83 L555.5,457.96 L556.5,458.09 L557.5,458.22 L558.5,458.35 L559.5,458.48 L560.5,458.61 L561.5,458.73 L562.5,458.85 L563.5,458.98 L564.5,459.10 L565.5,459.22 L566.5,459.34 L567.5,459.46 L568.5,459.58 L569.5,459.69 L570.5,459.81 L571.5,459.92 L572.5,460.04 L573.5,460.15 L574.5,460.26 L575.5,460.37 L576.5,460.48 L577.5,460.59 L578.5,460.70 L579.5,460.80 L580.5,460.91 L581.5,461.01 L582.5,461.12 L583.5,461.22 L584.5,461.32 L585.5,461.42 L586.5,461.52 L587.5,461.62 L588.5,461.71 L589.5,461.81 L590.5,461.90 L591.5,462.00 L592.5,462.09 L593.5,462.18 L594.5,462.27 L595.5,462.36 L596.5,462.45 L597.5,462.54 L598.5,462.62 L599.5,462.71 L600.5,462.79 L601.5,462.88 L602.5,462.96 L603.5,463.04 L604.5,463.12 L605.5,463.20 L606.5,463.27 L607.5,463.35 L608.5,463.43 L609.5,463.50 L610.5,463.58 L611.5,463.65 L612.5,463.72 L613.5,463.79 L614.5,463.86 L615.5,463.93 L616.5,464.00 L617.5,464.06 L618.5,464.13 L619.5,464.19 L620.5,464.25 L621.5,464.32 L622.5,464.38 L623.5,464.44 L624.5,464.50 L625.5,464.55 L626.5,464.61 L627.5,464.67 L628.5,464.72 L629.5,464.78 L630.5,464.83 L631.5,464.88 L632.5,464.93 L633.5,464.98 L634.5,465.03 L635.5,465.08 L636.5,465.12 L637.5,465.17 L638.5,465.21 L639.5,465.26 L640.5,465.30 L641.5,465.34 L642.5,465.38 L643.5,465.42 L644.5,465.46 L645.5,465.49 L646.5,465.53 L647.5,465.57 L648.5,465.60 L649.5,465.63 L650.5,465.66 L651.5,465.69 L652.5,465.72 L653.5,465.75 L654.5,465.78 L655.5,465.81 L656.5,465.83 L657.5,465.86 L658.5,465.88 L659.5,465.90 L660.5,465.92 L661.5,465.95 L662.5,465.96 L663.5,465.98 L664.5,466.00 L665.5,466.02 L666.5,466.03 L667.5,466.05 L668.5,466.06 L669.5,466.07 L670.5,466.08 L671.5,466.09 L672.1,466.09" stroke="#ff0000" stroke-width="1.1" stroke-dasharray="22.04,8.27" stroke-dashoffset="23.35"/>
<path d="M268.5,214.15 L269.5,214.21 L270.5,214.28 L271.5,214.34 L272.5,214.41 L273.5,214.49 L274.5,214.56 L275.5,214.65 L276.5,214.73 L277.5,214.82 L278.5,214.91 L279.5,215.00 L280.5,215.10 L281.5,215.21 L282.5,215.31 L283.5,215.43 L284.5,215.54 L285.5,215.66 L286.5,215.78 L287.5,215.91 L288.5,216.04 L289.5,216.18 L290.5,216.32 L291.5,216.47 L292.5,216.62 L293.5,216.77 L294.5,216.93 L295.5,217.10 L296.5,217.27 L297.5,217.44 L298.5,217.62 L299.5,217.81 L300.5,218.00 L301.5,218.19 L302.5,218.39 L303.5,218.60 L304.5,218.81 L305.5,219.03 L306.5,219.25 L307.5,219.48 L308.5,219.71 L309.5,219.95 L310.5,220.20 L311.5,220.45 L312.5,220.71 L313.5,220.97 L314.5,221.24 L315.5,221.52 L316.5,221.80 L317.5,222.09 L318.5,222.38 L319.5,222.68 L320.5,222.99 L321.5,223.31 L322.5,223.63 L323.5,223.96 L324.5,224.29 L325.5,224.63 L326.5,224.98 L327.5,225.34 L328.5,225.70 L329.5,226.07 L330.5,226.45 L331.5,226.83 L332.5,227.23 L333.5,227.63 L334.5,228.03 L335.5,228.45 L336.5,228.87 L337.5,229.30 L338.5,229.74 L339.5,230.18 L340.5,230.64 L341.5,231.10 L342.5,231.57 L343.5,232.05 L344.5,232.53 L345.5,233.02 L346.5,233.52 L347.5,234.03 L348.5,234.55 L349.5,235.07 L350.5,235.60 L351.5,236.14 L352.5,236.69 L353.5,237.24 L354.5,237.80 L355.5,238.37 L356.5,238.94 L357.5,239.52 L358.5,240.11 L359.5,240.71 L360.5,241.31 L361.5,241.92 L362.5,242.54 L363.5,243.16 L364.5,243.79 L365.5,244.43 L366.5,245.07 L367.5,245.72 L368.5,246.38 L369.5,247.04 L370.5,247.72 L371.5,248.39 L372.5,249.08 L373.5,249.77 L374.5,250.46 L375.5,251.16 L376.5,251.87 L377.5,252.59 L378.5,253.31 L379.5,254.04 L380.5,254.77 L381.5,255.51 L382.5,256.26 L383.5,257.01 L384.5,257.76 L385.5,258.53 L386.5,259.30 L387.5,260.07 L388.5,260.85 L389.5,261.64 L390.5,262.43 L391.5,263.23 L392.5,264.03 L393.5,264.84 L394.5,265.65 L395.5,266.47 L396.5,267.29 L397.5,268.12 L398.5,268.96 L399.5,269.80 L400.5,270.64 L401.5,271.49 L402.5,272.35 L403.5,273.21 L404.5,274.07 L405.5,274.94 L406.5,275.81 L407.5,276.69 L408.5,277.57 L409.5,278.46 L410.5,279.35 L411.5,280.24 L412.5,281.14 L413.5,282.05 L414.5,282.95 L415.5,283.86 L416.5,284.77 L417.5,285.69 L418.5,286.61 L419.5,287.53 L420.5,288.45 L421.5,289.38 L422.5,290.31 L423.5,291.25 L424.5,292.18 L425.5,293.12 L426.5,294.06 L427.5,295.00 L428.5,295.95 L429.5,296.89 L430.5,297.84 L431.5,298.79 L432.5,299.74 L433.5,300.70 L434.5,301.65 L435.5,302.61 L436.5,303.57 L437.5,304.53 L438.5,305.49 L439.5,306.45 L440.5,307.41 L441.5,308.37 L442.5,309.33 L443.5,310.29 L444.5,311.26 L445.5,312.22 L446.5,313.18 L447.5,314.15 L448.5,315.11 L449.5,316.08 L450.5,317.04 L451.5,318.00 L452.5,318.96 L453.5,319.92 L454.5,320.88 L455.5,321.84 L456.5,322.80 L457.5,323.76 L458.5,324.72 L459.5,325.67 L460.5,326.63 L461.5,327.58 L462.5,328.53 L463.5,329.48 L464.5,330.43 L465.5,331.37 L466.5,332.31 L467.5,333.26 L468.5,334.19 L469.5,335.13 L470.5,336.06 L471.5,337.00 L472.5,337.92 L473.5,338.85 L474.5,339.77 L475.5,340.69 L476.5,341.61 L477.5,342.52 L478.5,343.43 L479.5,344.34 L480.5,345.24 L481.5,346.15 L482.5,347.04 L483.5,347.94 L484.5,348.83 L485.5,349.72 L486.5,350.61 L487.5,351.49 L488.5,352.37 L489.5,353.25 L490.5,354.12 L491.5,354.99 L492.5,355.86 L493.5,356.73 L494.5,357.59 L495.5,358.45 L496.5,359.31 L497.5,360.16 L498.5,361.01 L499.5,361.86 L500.5,362.70 L501.5,363.55 L502.5,364.38 L503.5,365.22 L504.5,366.05 L505.5,366.88 L506.5,367.71 L507.5,368.53 L508.5,369.35 L509.5,370.17 L510.5,370.99 L511.5,371.80 L512.5,372.61 L513.5,373.42 L514.5,374.22 L515.5,375.02 L516.5,375.82 L517.5,376.61 L518.5,377.40 L519.5,378.19 L520.5,378.98 L521.5,379.76 L522.5,380.54 L523.5,381.32 L524.5,382.09 L525.5,382.87 L526.5,383.63 L527.5,384.40 L528.5,385.16 L529.5,385.92 L530.5,386.68 L531.5,387.43 L532.5,388.19 L533.5,388.93 L534.5,389.68 L535.5,390.42 L536.5,391.16 L537.5,391.90 L538.5,392.63 L539.5,393.37 L540.5,394.09 L541.5,394.82 L542.5,395.54 L543.5,396.26 L544.5,396.98 L545.5,397.70 L546.5,398.41 L547.5,399.12 L548.5,399.82 L549.5,400.52 L550.5,401.23 L551.5,401.92 L552.5,402.62 L553.5,403.31 L554.5,404.00 L555.5,404.68 L556.5,405.37 L557.5,406.05 L558.5,406.73 L559.5,407.40 L560.5,408.07 L561.5,408.74 L562.5,409.41 L563.5,410.07 L564.5,410.74 L565.5,411.39 L566.5,412.05 L567.5,412.70 L568.5,413.35 L569.5,414.00 L570.5,414.65 L571.5,415.29 L572.5,415.93 L573.5,416.56 L574.5,417.20 L575.5,417.83 L576.5,418.46 L577.5,419.08 L578.5,419.70 L579.5,420.32 L580.5,420.94 L581.5,421.56 L582.5,422.17 L583.5,422.78 L584.5,423.38 L585.5,423.99 L586.5,424.59 L587.5,425.19 L588.5,425.78 L589.5,426.38 L590.5,426.97 L591.5,427.55 L592.5,428.14 L593.5,428.72 L594.5,429.30 L595.5,429.88 L596.5,430.45 L597.5,431.02 L598.5,431.59 L599.5,432.16 L600.5,432.72 L601.5,433.28 L602.5,433.84 L603.5,434.39 L604.5,434.95 L605.5,435.50 L606.5,436.04 L607.5,436.59 L608.5,437.13 L609.5,437.67 L610.5,438.21 L611.5,438.74 L612.5,439.27 L613.5,439.80 L614.5,440.33 L615.5,440.85 L616.5,441.38 L617.5,441.89 L618.5,442.41 L619.5,442.92 L620.5,443.43 L621.5,443.94 L622.5,444.45 L623.5,444.95 L624.5,445.45 L625.5,445.95 L626.5,446.44 L627.5,446.94 L628.5,447.43 L629.5,447.91 L630.5,448.40 L631.5,448.88 L632.5,449.36 L633.5,449.84 L634.5,450.31 L635.5,450.79 L636.5,451.25 L637.5,451.72 L638.5,452.19 L639.5,452.65 L640.5,453.11 L641.5,453.56 L642.5,454.02 L643.5,454.47 L644.5,454.92 L645.5,455.37 L646.5,455.81 L647.5,456.25 L648.5,456.69 L649.5,457.13 L650.5,457.56 L651.5,457.99 L652.5,458.42 L653.5,458.85 L654.5,459.27 L655.5,459.69 L656.5,460.11 L657.5,460.53 L658.5,460.94 L659.5,461.35 L660.5,461.76 L661.5,462.17 L662.5,462.57 L663.5,462.98 L664.5,463.37 L665.5,463.77 L666.5,464.17 L667.5,464.56 L668.5,464.95 L669.5,465.33 L670.5,465.72 L671.5,466.10 L672.1,466.10" stroke="#0000ff" stroke-width="1.95"/>
<path d="M228.5,214.17 L229.5,214.23 L230.5,214.29 L231.5,214.35 L232.5,214.42 L233.5,214.49 L234.5,214.56 L235.5,214.63 L236.5,214.71 L237.5,214.79 L238.5,214.87 L239.5,214.96 L240.5,215.05 L241.5,215.14 L242.5,215.24 L243.5,215.34 L244.5,215.45 L245.5,215.56 L246.5,215.67 L247.5,215.79 L248.5,215.91 L249.5,216.04 L250.5,216.17 L251.5,216.30 L252.5,216.44 L253.5,216.59 L254.5,216.74 L255.5,216.89 L256.5,217.05 L257.5,217.21 L258.5,217.38 L259.5,217.56 L260.5,217.74 L261.5,217.92 L262.5,218.11 L263.5,218.31 L264.5,218.51 L265.5,218.72 L266.5,218.93 L267.5,219.15 L268.5,219.37 L269.5,219.61 L270.5,219.84 L271.5,220.09 L272.5,220.34 L273.5,220.59 L274.5,220.86 L275.5,221.13 L276.5,221.40 L277.5,221.69 L278.5,221.98 L279.5,222.28 L280.5,222.58 L281.5,222.89 L282.5,223.21 L283.5,223.54 L284.5,223.87 L285.5,224.22 L286.5,224.57 L287.5,224.92 L288.5,225.29 L289.5,225.66 L290.5,226.04 L291.5,226.43 L292.5,226.83 L293.5,227.23 L294.5,227.65 L295.5,228.07 L296.5,228.50 L297.5,228.94 L298.5,229.39 L299.5,229.85 L300.5,230.31 L301.5,230.79 L302.5,231.27 L303.5,231.77 L304.5,232.27 L305.5,232.78 L306.5,233.30 L307.5,233.84 L308.5,234.38 L309.5,234.93 L310.5,235.49 L311.5,236.06 L312.5,236.64 L313.5,237.22 L314.5,237.82 L315.5,238.43 L316.5,239.04 L317.5,239.66 L318.5,240.30 L319.5,240.93 L320.5,241.58 L321.5,242.24 L322.5,242.90 L323.5,243.57 L324.5,244.25 L325.5,244.93 L326.5,245.62 L327.5,246.32 L328.5,247.03 L329.5,247.74 L330.5,248.46 L331.5,249.18 L332.5,249.92 L333.5,250.65 L334.5,251.40 L335.5,252.14 L336.5,252.90 L337.5,253.66 L338.5,254.42 L339.5,255.19 L340.5,255.97 L341.5,256.75 L342.5,257.53 L343.5,258.32 L344.5,259.11 L345.5,259.91 L346.5,260.71 L347.5,261.51 L348.5,262.32 L349.5,263.13 L350.5,263.95 L351.5,264.76 L352.5,265.58 L353.5,266.41 L354.5,267.23 L355.5,268.06 L356.5,268.90 L357.5,269.73 L358.5,270.57 L359.5,271.40 L360.5,272.24 L361.5,273.08 L362.5,273.93 L363.5,274.77 L364.5,275.62 L365.5,276.46 L366.5,277.31 L367.5,278.16 L368.5,279.00 L369.5,279.85 L370.5,280.70 L371.5,281.55 L372.5,282.40 L373.5,283.25 L374.5,284.10 L375.5,284.95 L376.5,285.80 L377.5,286.65 L378.5,287.50 L379.5,288.35 L380.5,289.20 L381.5,290.05 L382.5,290.90 L383.5,291.75 L384.5,292.60 L385.5,293.45 L386.5,294.29 L387.5,295.14 L388.5,295.99 L389.5,296.84 L390.5,297.69 L391.5,298.54 L392.5,299.38 L393.5,300.23 L394.5,301.08 L395.5,301.92 L396.5,302.77 L397.5,303.62 L398.5,304.46 L399.5,305.31 L400.5,306.15 L401.5,306.99 L402.5,307.84 L403.5,308.68 L404.5,309.52 L405.5,310.36 L406.5,311.20 L407.5,312.04 L408.5,312.88 L409.5,313.72 L410.5,314.56 L411.5,315.39 L412.5,316.23 L413.5,317.06 L414.5,317.90 L415.5,318.73 L416.5,319.56 L417.5,320.39 L418.5,321.22 L419.5,322.05 L420.5,322.88 L421.5,323.71 L422.5,324.53 L423.5,325.36 L424.5,326.18 L425.5,327.01 L426.5,327.83 L427.5,328.65 L428.5,329.47 L429.5,330.28 L430.5,331.10 L431.5,331.92 L432.5,332.73 L433.5,333.54 L434.5,334.35 L435.5,335.16 L436.5,335.97 L437.5,336.78 L438.5,337.58 L439.5,338.39 L440.5,339.19 L441.5,339.99 L442.5,340.79 L443.5,341.58 L444.5,342.38 L445.5,343.17 L446.5,343.97 L447.5,344.76 L448.5,345.55 L449.5,346.33 L450.5,347.12 L451.5,347.90 L452.5,348.68 L453.5,349.46 L454.5,350.24 L455.5,351.02 L456.5,351.79 L457.5,352.56 L458.5,353.33 L459.5,354.10 L460.5,354.87 L461.5,355.63 L462.5,356.39 L463.5,357.15 L464.5,357.91 L465.5,358.66 L466.5,359.42 L467.5,360.17 L468.5,360.92 L469.5,361.66 L470.5,362.41 L471.5,363.15 L472.5,363.89 L473.5,364.62 L474.5,365.36 L475.5,366.09 L476.5,366.82 L477.5,367.55 L478.5,368.27 L479.5,368.99 L480.5,369.71 L481.5,370.43 L482.5,371.14 L483.5,371.85 L484.5,372.56 L485.5,373.27 L486.5,373.97 L487.5,374.67 L488.5,375.37 L489.5,376.07 L490.5,376.76 L491.5,377.45 L492.5,378.13 L493.5,378.82 L494.5,379.50 L495.5,380.18 L496.5,380.85 L497.5,381.52 L498.5,382.19 L499.5,382.86 L500.5,383.52 L501.5,384.18 L502.5,384.84 L503.5,385.49 L504.5,386.14 L505.5,386.79 L506.5,387.43 L507.5,388.08 L508.5,388.71 L509.5,389.35 L510.5,389.98 L511.5,390.61 L512.5,391.24 L513.5,391.87 L514.5,392.49 L515.5,393.11 L516.5,393.72 L517.5,394.34 L518.5,394.95 L519.5,395.56 L520.5,396.16 L521.5,396.76 L522.5,397.36 L523.5,397.96 L524.5,398.56 L525.5,399.15 L526.5,399.74 L527.5,400.33 L528.5,400.91 L529.5,401.49 L530.5,402.07 L531.5,402.65 L532.5,403.22 L533.5,403.79 L534.5,404.36 L535.5,404.93 L536.5,405.50 L537.5,406.06 L538.5,406.62 L539.5,407.17 L540.5,407.73 L541.5,408.28 L542.5,408.83 L543.5,409.38 L544.5,409.92 L545.5,410.47 L546.5,411.01 L547.5,411.55 L548.5,412.08 L549.5,412.62 L550.5,413.15 L551.5,413.68 L552.5,414.21 L553.5,414.73 L554.5,415.25 L555.5,415.78 L556.5,416.29 L557.5,416.81 L558.5,417.33 L559.5,417.84 L560.5,418.35 L561.5,418.86 L562.5,419.36 L563.5,419.87 L564.5,420.37 L565.5,420.87 L566.5,421.37 L567.5,421.87 L568.5,422.36 L569.5,422.86 L570.5,423.35 L571.5,423.84 L572.5,424.32 L573.5,424.81 L574.5,425.29 L575.5,425.77 L576.5,426.25 L577.5,426.73 L578.5,427.21 L579.5,427.68 L580.5,428.16 L581.5,428.63 L582.5,429.10 L583.5,429.57 L584.5,430.03 L585.5,430.50 L586.5,430.96 L587.5,431.42 L588.5,431.88 L589.5,432.34 L590.5,432.80 L591.5,433.25 L592.5,433.70 L593.5,434.16 L594.5,434.61 L595.5,435.06 L596.5,435.50 L597.5,435.95 L598.5,436.39 L599.5,436.84 L600.5,437.28 L601.5,437.72 L602.5,438.16 L603.5,438.60 L604.5,439.03 L605.5,439.47 L606.5,439.90 L607.5,440.34 L608.5,440.77 L609.5,441.20 L610.5,441.63 L611.5,442.05 L612.5,442.48 L613.5,442.91 L614.5,443.33 L615.5,443.75 L616.5,444.17 L617.5,444.59 L618.5,445.01 L619.5,445.43 L620.5,445.85 L621.5,446.27 L622.5,446.68 L623.5,447.10 L624.5,447.51 L625.5,447.92 L626.5,448.33 L627.5,448.74 L628.5,449.15 L629.5,449.56 L630.5,449.97 L631.5,450.38 L632.5,450.78 L633.5,451.19 L634.5,451.59 L635.5,451.99 L636.5,452.40 L637.5,452.80 L638.5,453.20 L639.5,453.60 L640.5,454.00 L641.5,454.40 L642.5,454.80 L643.5,455.19 L644.5,455.59 L645.5,455.99 L646.5,456.38 L647.5,456.78 L648.5,457.17 L649.5,457.56 L650.5,457.96 L651.5,458.35 L652.5,458.74 L653.5,459.13 L654.5,459.52 L655.5,459.91 L656.5,460.30 L657.5,460.69 L658.5,461.08 L659.5,461.47 L660.5,461.86 L661.5,462.24 L662.5,462.63 L663.5,463.02 L664.5,463.40 L665.5,463.79 L666.5,464.18 L667.5,464.56 L668.5,464.95 L669.5,465.33 L670.5,465.72 L671.5,466.10 L672.1,466.10" stroke="#0000ff" stroke-width="1.1" stroke-dasharray="2.20,10.47" stroke-dashoffset="108.04"/>
<path d="M223.5,214.14 L224.5,214.23 L225.5,214.32 L226.5,214.41 L227.5,214.52 L228.5,214.64 L229.5,214.76 L230.5,214.89 L231.5,215.03 L232.5,215.18 L233.5,215.34 L234.5,215.50 L235.5,215.68 L236.5,215.87 L237.5,216.07 L238.5,216.28 L239.5,216.50 L240.5,216.72 L241.5,216.96 L242.5,217.21 L243.5,217.46 L244.5,217.72 L245.5,218.00 L246.5,218.28 L247.5,218.57 L248.5,218.86 L249.5,219.17 L250.5,219.48 L251.5,219.80 L252.5,220.13 L253.5,220.47 L254.5,220.82 L255.5,221.17 L256.5,221.53 L257.5,221.90 L258.5,222.27 L259.5,222.66 L260.5,223.05 L261.5,223.45 L262.5,223.86 L263.5,224.28 L264.5,224.70 L265.5,225.14 L266.5,225.58 L267.5,226.03 L268.5,226.49 L269.5,226.96 L270.5,227.44 L271.5,227.93 L272.5,228.42 L273.5,228.93 L274.5,229.44 L275.5,229.96 L276.5,230.50 L277.5,231.04 L278.5,231.58 L279.5,232.14 L280.5,232.70 L281.5,233.28 L282.5,233.85 L283.5,234.44 L284.5,235.04 L285.5,235.64 L286.5,236.25 L287.5,236.87 L288.5,237.49 L289.5,238.12 L290.5,238.76 L291.5,239.40 L292.5,240.06 L293.5,240.71 L294.5,241.38 L295.5,242.05 L296.5,242.72 L297.5,243.40 L298.5,244.09 L299.5,244.79 L300.5,245.48 L301.5,246.19 L302.5,246.90 L303.5,247.61 L304.5,248.33 L305.5,249.06 L306.5,249.79 L307.5,250.52 L308.5,251.26 L309.5,252.00 L310.5,252.75 L311.5,253.50 L312.5,254.26 L313.5,255.02 L314.5,255.78 L315.5,256.55 L316.5,257.32 L317.5,258.09 L318.5,258.87 L319.5,259.65 L320.5,260.43 L321.5,261.22 L322.5,262.00 L323.5,262.80 L324.5,263.59 L325.5,264.39 L326.5,265.18 L327.5,265.98 L328.5,266.79 L329.5,267.59 L330.5,268.40 L331.5,269.20 L332.5,270.01 L333.5,270.82 L334.5,271.64 L335.5,272.45 L336.5,273.26 L337.5,274.08 L338.5,274.89 L339.5,275.71 L340.5,276.52 L341.5,277.34 L342.5,278.16 L343.5,278.97 L344.5,279.79 L345.5,280.61 L346.5,281.42 L347.5,282.24 L348.5,283.06 L349.5,283.87 L350.5,284.69 L351.5,285.50 L352.5,286.31 L353.5,287.13 L354.5,287.94 L355.5,288.75 L356.5,289.56 L357.5,290.37 L358.5,291.18 L359.5,291.99 L360.5,292.80 L361.5,293.60 L362.5,294.41 L363.5,295.22 L364.5,296.02 L365.5,296.83 L366.5,297.63 L367.5,298.43 L368.5,299.24 L369.5,300.04 L370.5,300.84 L371.5,301.64 L372.5,302.44 L373.5,303.24 L374.5,304.03 L375.5,304.83 L376.5,305.62 L377.5,306.42 L378.5,307.21 L379.5,308.01 L380.5,308.80 L381.5,309.59 L382.5,310.38 L383.5,311.17 L384.5,311.96 L385.5,312.74 L386.5,313.53 L387.5,314.31 L388.5,315.10 L389.5,315.88 L390.5,316.66 L391.5,317.44 L392.5,318.22 L393.5,319.00 L394.5,319.78 L395.5,320.55 L396.5,321.33 L397.5,322.10 L398.5,322.87 L399.5,323.64 L400.5,324.41 L401.5,325.18 L402.5,325.95 L403.5,326.72 L404.5,327.48 L405.5,328.25 L406.5,329.01 L407.5,329.77 L408.5,330.53 L409.5,331.29 L410.5,332.05 L411.5,332.80 L412.5,333.56 L413.5,334.31 L414.5,335.06 L415.5,335.81 L416.5,336.56 L417.5,337.31 L418.5,338.05 L419.5,338.80 L420.5,339.54 L421.5,340.28 L422.5,341.02 L423.5,341.76 L424.5,342.50 L425.5,343.23 L426.5,343.97 L427.5,344.70 L428.5,345.43 L429.5,346.16 L430.5,346.89 L431.5,347.61 L432.5,348.34 L433.5,349.06 L434.5,349.78 L435.5,350.50 L436.5,351.22 L437.5,351.93 L438.5,352.65 L439.5,353.36 L440.5,354.07 L441.5,354.78 L442.5,355.49 L443.5,356.19 L444.5,356.90 L445.5,357.60 L446.5,358.30 L447.5,359.00 L448.5,359.69 L449.5,360.39 L450.5,361.08 L451.5,361.77 L452.5,362.46 L453.5,363.14 L454.5,363.83 L455.5,364.51 L456.5,365.19 L457.5,365.87 L458.5,366.55 L459.5,367.22 L460.5,367.90 L461.5,368.57 L462.5,369.24 L463.5,369.90 L464.5,370.57 L465.5,371.23 L466.5,371.89 L467.5,372.55 L468.5,373.21 L469.5,373.86 L470.5,374.51 L471.5,375.16 L472.5,375.81 L473.5,376.46 L474.5,377.10 L475.5,377.74 L476.5,378.38 L477.5,379.02 L478.5,379.65 L479.5,380.28 L480.5,380.91 L481.5,381.54 L482.5,382.17 L483.5,382.79 L484.5,383.41 L485.5,384.03 L486.5,384.64 L487.5,385.26 L488.5,385.87 L489.5,386.48 L490.5,387.08 L491.5,387.69 L492.5,388.29 L493.5,388.89 L494.5,389.49 L495.5,390.08 L496.5,390.67 L497.5,391.26 L498.5,391.85 L499.5,392.43 L500.5,393.01 L501.5,393.59 L502.5,394.17 L503.5,394.74 L504.5,395.31 L505.5,395.88 L506.5,396.45 L507.5,397.01 L508.5,397.57 L509.5,398.13 L510.5,398.69 L511.5,399.24 L512.5,399.79 L513.5,400.34 L514.5,400.89 L515.5,401.43 L516.5,401.97 L517.5,402.51 L518.5,403.05 L519.5,403.58 L520.5,404.12 L521.5,404.65 L522.5,405.17 L523.5,405.70 L524.5,406.22 L525.5,406.74 L526.5,407.26 L527.5,407.78 L528.5,408.29 L529.5,408.80 L530.5,409.31 L531.5,409.82 L532.5,410.32 L533.5,410.83 L534.5,411.33 L535.5,411.83 L536.5,412.32 L537.5,412.82 L538.5,413.31 L539.5,413.80 L540.5,414.29 L541.5,414.78 L542.5,415.26 L543.5,415.74 L544.5,416.22 L545.5,416.70 L546.5,417.18 L547.5,417.65 L548.5,418.12 L549.5,418.59 L550.5,419.06 L551.5,419.53 L552.5,419.99 L553.5,420.46 L554.5,420.92 L555.5,421.38 L556.5,421.83 L557.5,422.29 L558.5,422.74 L559.5,423.20 L560.5,423.65 L561.5,424.10 L562.5,424.54 L563.5,424.99 L564.5,425.43 L565.5,425.87 L566.5,426.31 L567.5,426.75 L568.5,427.19 L569.5,427.62 L570.5,428.06 L571.5,428.49 L572.5,428.92 L573.5,429.35 L574.5,429.77 L575.5,430.20 L576.5,430.62 L577.5,431.05 L578.5,431.47 L579.5,431.89 L580.5,432.31 L581.5,432.72 L582.5,433.14 L583.5,433.55 L584.5,433.96 L585.5,434.38 L586.5,434.79 L587.5,435.19 L588.5,435.60 L589.5,436.01 L590.5,436.41 L591.5,436.81 L592.5,437.22 L593.5,437.62 L594.5,438.01 L595.5,438.41 L596.5,438.81 L597.5,439.21 L598.5,439.60 L599.5,439.99 L600.5,440.38 L601.5,440.77 L602.5,441.16 L603.5,441.55 L604.5,441.94 L605.5,442.33 L606.5,442.71 L607.5,443.10 L608.5,443.48 L609.5,443.86 L610.5,444.24 L611.5,444.62 L612.5,445.00 L613.5,445.38 L614.5,445.76 L615.5,446.13 L616.5,446.51 L617.5,446.88 L618.5,447.25 L619.5,447.63 L620.5,448.00 L621.5,448.37 L622.5,448.74 L623.5,449.11 L624.5,449.47 L625.5,449.84 L626.5,450.21 L627.5,450.57 L628.5,450.94 L629.5,451.30 L630.5,451.67 L631.5,452.03 L632.5,452.39 L633.5,452.75 L634.5,453.11 L635.5,453.47 L636.5,453.83 L637.5,454.19 L638.5,454.55 L639.5,454.90 L640.5,455.26 L641.5,455.62 L642.5,455.97 L643.5,456.33 L644.5,456.68 L645.5,457.04 L646.5,457.39 L647.5,457.74 L648.5,458.10 L649.5,458.45 L650.5,458.80 L651.5,459.15 L652.5,459.50 L653.5,459.85 L654.5,460.20 L655.5,460.55 L656.5,460.90 L657.5,461.25 L658.5,461.60 L659.5,461.95 L660.5,462.29 L661.5,462.64 L662.5,462.99 L663.5,463.34 L664.5,463.68 L665.5,464.03 L666.5,464.37 L667.5,464.72 L668.5,465.07 L669.5,465.41 L670.5,465.76 L671.5,466.10 L672.1,466.10" stroke="#0000ff" stroke-width="1.1" stroke-dasharray="2.20,15.98,22.04,16.53" stroke-dashoffset="102.32"/>
<path d="M196.5,214.15 L197.5,214.23 L198.5,214.30 L199.5,214.39 L200.5,214.48 L201.5,214.57 L202.5,214.67 L203.5,214.77 L204.5,214.87 L205.5,214.99 L206.5,215.10 L207.5,215.22 L208.5,215.35 L209.5,215.48 L210.5,215.62 L211.5,215.76 L212.5,215.91 L213.5,216.06 L214.5,216.22 L215.5,216.39 L216.5,216.56 L217.5,216.73 L218.5,216.92 L219.5,217.11 L220.5,217.30 L221.5,217.50 L222.5,217.71 L223.5,217.93 L224.5,218.15 L225.5,218.37 L226.5,218.61 L227.5,218.85 L228.5,219.10 L229.5,219.36 L230.5,219.62 L231.5,219.89 L232.5,220.17 L233.5,220.45 L234.5,220.74 L235.5,221.04 L236.5,221.35 L237.5,221.67 L238.5,221.99 L239.5,222.32 L240.5,222.65 L241.5,223.00 L242.5,223.35 L243.5,223.71 L244.5,224.07 L245.5,224.45 L246.5,224.83 L247.5,225.22 L248.5,225.61 L249.5,226.01 L250.5,226.42 L251.5,226.84 L252.5,227.26 L253.5,227.69 L254.5,228.12 L255.5,228.57 L256.5,229.02 L257.5,229.47 L258.5,229.94 L259.5,230.41 L260.5,230.89 L261.5,231.37 L262.5,231.86 L263.5,232.36 L264.5,232.86 L265.5,233.37 L266.5,233.89 L267.5,234.41 L268.5,234.94 L269.5,235.48 L270.5,236.02 L271.5,236.57 L272.5,237.13 L273.5,237.69 L274.5,238.26 L275.5,238.84 L276.5,239.42 L277.5,240.00 L278.5,240.60 L279.5,241.20 L280.5,241.81 L281.5,242.42 L282.5,243.04 L283.5,243.66 L284.5,244.29 L285.5,244.93 L286.5,245.57 L287.5,246.22 L288.5,246.88 L289.5,247.54 L290.5,248.20 L291.5,248.88 L292.5,249.55 L293.5,250.24 L294.5,250.93 L295.5,251.62 L296.5,252.32 L297.5,253.03 L298.5,253.74 L299.5,254.46 L300.5,255.18 L301.5,255.91 L302.5,256.64 L303.5,257.38 L304.5,258.12 L305.5,258.87 L306.5,259.62 L307.5,260.37 L308.5,261.13 L309.5,261.89 L310.5,262.66 L311.5,263.43 L312.5,264.20 L313.5,264.98 L314.5,265.76 L315.5,266.55 L316.5,267.33 L317.5,268.12 L318.5,268.92 L319.5,269.71 L320.5,270.51 L321.5,271.31 L322.5,272.12 L323.5,272.92 L324.5,273.73 L325.5,274.54 L326.5,275.36 L327.5,276.17 L328.5,276.99 L329.5,277.80 L330.5,278.62 L331.5,279.44 L332.5,280.27 L333.5,281.09 L334.5,281.91 L335.5,282.74 L336.5,283.56 L337.5,284.39 L338.5,285.22 L339.5,286.04 L340.5,286.87 L341.5,287.70 L342.5,288.52 L343.5,289.35 L344.5,290.18 L345.5,291.01 L346.5,291.83 L347.5,292.66 L348.5,293.48 L349.5,294.31 L350.5,295.13 L351.5,295.95 L352.5,296.78 L353.5,297.60 L354.5,298.41 L355.5,299.23 L356.5,300.05 L357.5,300.86 L358.5,301.67 L359.5,302.48 L360.5,303.29 L361.5,304.10 L362.5,304.90 L363.5,305.70 L364.5,306.50 L365.5,307.30 L366.5,308.09 L367.5,308.89 L368.5,309.68 L369.5,310.47 L370.5,311.25 L371.5,312.04 L372.5,312.82 L373.5,313.60 L374.5,314.38 L375.5,315.16 L376.5,315.93 L377.5,316.71 L378.5,317.48 L379.5,318.25 L380.5,319.01 L381.5,319.78 L382.5,320.54 L383.5,321.30 L384.5,322.06 L385.5,322.81 L386.5,323.57 L387.5,324.32 L388.5,325.07 L389.5,325.82 L390.5,326.57 L391.5,327.31 L392.5,328.05 L393.5,328.80 L394.5,329.53 L395.5,330.27 L396.5,331.00 L397.5,331.74 L398.5,332.47 L399.5,333.20 L400.5,333.92 L401.5,334.65 L402.5,335.37 L403.5,336.09 L404.5,336.81 L405.5,337.53 L406.5,338.24 L407.5,338.95 L408.5,339.67 L409.5,340.37 L410.5,341.08 L411.5,341.79 L412.5,342.49 L413.5,343.19 L414.5,343.89 L415.5,344.59 L416.5,345.28 L417.5,345.98 L418.5,346.67 L419.5,347.36 L420.5,348.04 L421.5,348.73 L422.5,349.41 L423.5,350.09 L424.5,350.77 L425.5,351.45 L426.5,352.13 L427.5,352.80 L428.5,353.47 L429.5,354.14 L430.5,354.81 L431.5,355.48 L432.5,356.14 L433.5,356.81 L434.5,357.47 L435.5,358.13 L436.5,358.78 L437.5,359.44 L438.5,360.09 L439.5,360.74 L440.5,361.39 L441.5,362.04 L442.5,362.69 L443.5,363.33 L444.5,363.97 L445.5,364.61 L446.5,365.25 L447.5,365.89 L448.5,366.52 L449.5,367.15 L450.5,367.78 L451.5,368.41 L452.5,369.04 L453.5,369.67 L454.5,370.29 L455.5,370.91 L456.5,371.53 L457.5,372.15 L458.5,372.76 L459.5,373.38 L460.5,373.99 L461.5,374.60 L462.5,375.21 L463.5,375.82 L464.5,376.42 L465.5,377.02 L466.5,377.63 L467.5,378.23 L468.5,378.82 L469.5,379.42 L470.5,380.01 L471.5,380.61 L472.5,381.20 L473.5,381.78 L474.5,382.37 L475.5,382.96 L476.5,383.54 L477.5,384.12 L478.5,384.70 L479.5,385.28 L480.5,385.86 L481.5,386.43 L482.5,387.00 L483.5,387.57 L484.5,388.14 L485.5,388.71 L486.5,389.27 L487.5,389.84 L488.5,390.40 L489.5,390.96 L490.5,391.52 L491.5,392.08 L492.5,392.63 L493.5,393.18 L494.5,393.74 L495.5,394.29 L496.5,394.83 L497.5,395.38 L498.5,395.92 L499.5,396.47 L500.5,397.01 L501.5,397.55 L502.5,398.08 L503.5,398.62 L504.5,399.15 L505.5,399.69 L506.5,400.22 L507.5,400.75 L508.5,401.27 L509.5,401.80 L510.5,402.32 L511.5,402.84 L512.5,403.37 L513.5,403.88 L514.5,404.40 L515.5,404.92 L516.5,405.43 L517.5,405.94 L518.5,406.45 L519.5,406.96 L520.5,407.47 L521.5,407.97 L522.5,408.48 L523.5,408.98 L524.5,409.48 L525.5,409.98 L526.5,410.47 L527.5,410.97 L528.5,411.46 L529.5,411.95 L530.5,412.44 L531.5,412.93 L532.5,413.42 L533.5,413.90 L534.5,414.39 L535.5,414.87 L536.5,415.35 L537.5,415.83 L538.5,416.30 L539.5,416.78 L540.5,417.25 L541.5,417.73 L542.5,418.20 L543.5,418.66 L544.5,419.13 L545.5,419.60 L546.5,420.06 L547.5,420.52 L548.5,420.98 L549.5,421.44 L550.5,421.90 L551.5,422.36 L552.5,422.81 L553.5,423.26 L554.5,423.71 L555.5,424.16 L556.5,424.61 L557.5,425.06 L558.5,425.50 L559.5,425.94 L560.5,426.39 L561.5,426.83 L562.5,427.26 L563.5,427.70 L564.5,428.14 L565.5,428.57 L566.5,429.00 L567.5,429.43 L568.5,429.86 L569.5,430.29 L570.5,430.71 L571.5,431.14 L572.5,431.56 L573.5,431.98 L574.5,432.40 L575.5,432.82 L576.5,433.23 L577.5,433.65 L578.5,434.06 L579.5,434.47 L580.5,434.88 L581.5,435.29 L582.5,435.70 L583.5,436.11 L584.5,436.51 L585.5,436.91 L586.5,437.31 L587.5,437.71 L588.5,438.11 L589.5,438.51 L590.5,438.90 L591.5,439.29 L592.5,439.69 L593.5,440.08 L594.5,440.47 L595.5,440.85 L596.5,441.24 L597.5,441.62 L598.5,442.01 L599.5,442.39 L600.5,442.77 L601.5,443.15 L602.5,443.52 L603.5,443.90 L604.5,444.27 L605.5,444.64 L606.5,445.02 L607.5,445.39 L608.5,445.75 L609.5,446.12 L610.5,446.49 L611.5,446.85 L612.5,447.21 L613.5,447.57 L614.5,447.93 L615.5,448.29 L616.5,448.65 L617.5,449.00 L618.5,449.35 L619.5,449.71 L620.5,450.06 L621.5,450.41 L622.5,450.75 L623.5,451.10 L624.5,451.44 L625.5,451.79 L626.5,452.13 L627.5,452.47 L628.5,452.81 L629.5,453.15 L630.5,453.48 L631.5,453.82 L632.5,454.15 L633.5,454.48 L634.5,454.81 L635.5,455.14 L636.5,455.47 L637.5,455.80 L638.5,456.12 L639.5,456.45 L640.5,456.77 L641.5,457.09 L642.5,457.41 L643.5,457.73 L644.5,458.04 L645.5,458.36 L646.5,458.67 L647.5,458.99 L648.5,459.30 L649.5,459.61 L650.5,459.92 L651.5,460.22 L652.5,460.53 L653.5,460.83 L654.5,461.14 L655.5,461.44 L656.5,461.74 L657.5,462.04 L658.5,462.34 L659.5,462.63 L660.5,462.93 L661.5,463.22 L662.5,463.51 L663.5,463.80 L664.5,464.09 L665.5,464.38 L666.5,464.67 L667.5,464.95 L668.5,465.24 L669.5,465.52 L670.5,465.80 L671.5,466.08 L672.1,466.08" stroke="#0000ff" stroke-width="1.1" stroke-dasharray="22.04,8.27" stroke-dashoffset="76.44"/>
<path d="M120.2,213.57 L120.5,213.57 L121.5,213.57 L122.5,213.57 L123.5,213.57 L124.5,213.57 L125.5,213.57 L126.5,213.57 L127.5,213.57 L128.5,213.57 L129.5,213.57 L130.5,213.57 L131.5,213.57 L132.5,213.57 L133.5,213.57 L134.5,213.57 L135.5,213.57 L136.5,213.57 L137.5,213.57 L138.5,213.57 L139.5,213.57 L140.5,213.57 L141.5,213.57 L142.5,213.57 L143.5,213.57 L144.5,213.57 L145.5,213.57 L146.5,213.57 L147.5,213.57 L148.5,213.57 L149.5,213.57 L150.5,213.57 L151.5,213.57 L152.5,213.57 L153.5,213.57 L154.5,213.57 L155.5,213.57 L156.5,213.57 L157.5,213.57 L158.5,213.57 L159.5,213.57 L160.5,213.57 L161.5,213.57 L162.5,213.57 L163.5,213.57 L164.5,213.57 L165.5,213.57 L166.5,213.57 L167.5,213.57 L168.5,213.57 L169.5,213.57 L170.5,213.57 L171.5,213.57 L172.5,213.57 L173.5,213.57 L174.5,213.57 L175.5,213.57 L176.5,213.57 L177.5,213.57 L178.5,213.57 L179.5,213.57 L180.5,213.57 L181.5,213.57 L182.5,213.57 L183.5,213.57 L184.5,213.57 L185.5,213.57 L186.5,213.57 L187.5,213.57 L188.5,213.57 L189.5,213.57 L190.5,213.57 L191.5,213.57 L192.5,213.57 L193.5,213.57 L194.5,213.57 L195.5,213.57 L196.5,213.57 L197.5,213.57 L198.5,213.57 L199.5,213.57 L200.5,213.57 L201.5,213.57 L202.5,213.57 L203.5,213.57 L204.5,213.57 L205.5,213.57 L206.5,213.57 L207.5,213.57 L208.5,213.57 L209.5,213.57 L210.5,213.57 L211.5,213.57 L212.5,213.57 L213.5,213.57 L214.5,213.57 L215.5,213.57 L216.5,213.57 L217.5,213.57 L218.5,213.57 L219.5,213.57 L220.5,213.57 L221.5,213.57 L222.5,213.57 L223.5,213.57 L224.5,213.57 L225.5,213.57 L226.5,213.57 L227.5,213.57 L228.5,213.57 L229.5,213.57 L230.5,213.57 L231.5,213.57 L232.5,213.57 L233.5,213.57 L234.5,213.57 L235.5,213.57 L236.5,213.57 L237.5,213.57 L238.5,213.57 L239.5,213.57 L240.5,213.57 L241.5,213.57 L242.5,213.57 L243.5,213.57 L244.5,213.57 L245.5,213.57 L246.5,213.57 L247.5,213.57 L248.5,213.57 L249.5,213.57 L250.5,213.57 L251.5,213.57 L252.5,213.57 L253.5,213.57 L254.5,213.57 L255.5,213.57 L256.5,213.57 L257.5,213.57 L258.5,213.57 L259.5,213.57 L260.5,213.57 L261.5,213.57 L262.5,213.57 L263.5,213.57 L264.5,213.57 L265.5,213.57 L266.5,213.57 L267.5,213.57 L268.5,213.57 L269.5,213.57 L270.5,213.57 L271.5,213.57 L272.5,213.57 L273.5,213.57 L274.5,213.57 L275.5,213.57 L276.5,213.57 L277.5,213.57 L278.5,213.57 L279.5,213.57 L280.5,213.57 L281.5,213.57 L282.5,213.57 L283.5,213.57 L284.5,213.57 L285.5,213.57 L286.5,213.57 L287.5,213.57 L288.5,213.57 L289.5,213.57 L290.5,213.57 L291.5,213.57 L292.5,213.57 L293.5,213.57 L294.5,213.57 L295.5,213.57 L296.5,213.57 L297.5,213.57 L298.5,213.57 L299.5,213.57 L300.5,213.57 L301.5,213.57 L302.5,213.57 L303.5,213.57 L304.5,213.57 L305.5,213.57 L306.5,213.57 L307.5,213.57 L308.5,213.57 L309.5,213.57 L310.5,213.57 L311.5,213.57 L312.5,213.57 L313.5,213.57 L314.5,213.57 L315.5,213.57 L316.5,213.57 L317.5,213.57 L318.5,213.57 L319.5,213.57 L320.5,213.57 L321.5,213.57 L322.5,213.57 L323.5,213.57 L324.5,213.57 L325.5,213.72 L326.5,213.76 L327.5,213.81 L328.5,213.85 L329.5,213.91 L330.5,213.96 L331.5,214.02 L332.5,214.09 L333.5,214.16 L334.5,214.23 L335.5,214.31 L336.5,214.39 L337.5,214.48 L338.5,214.57 L339.5,214.66 L340.5,214.76 L341.5,214.87 L342.5,214.98 L343.5,215.09 L344.5,215.21 L345.5,215.34 L346.5,215.47 L347.5,215.61 L348.5,215.75 L349.5,215.90 L350.5,216.05 L351.5,216.22 L352.5,216.38 L353.5,216.56 L354.5,216.74 L355.5,216.92 L356.5,217.12 L357.5,217.32 L358.5,217.53 L359.5,217.74 L360.5,217.96 L361.5,218.20 L362.5,218.44 L363.5,218.68 L364.5,218.94 L365.5,219.20 L366.5,219.48 L367.5,219.76 L368.5,220.05 L369.5,220.35 L370.5,220.66 L371.5,220.98 L372.5,221.31 L373.5,221.65 L374.5,222.00 L375.5,222.36 L376.5,222.73 L377.5,223.11 L378.5,223.50 L379.5,223.90 L380.5,224.32 L381.5,224.74 L382.5,225.18 L383.5,225.63 L384.5,226.09 L385.5,226.56 L386.5,227.05 L387.5,227.55 L388.5,228.06 L389.5,228.58 L390.5,229.12 L391.5,229.67 L392.5,230.23 L393.5,230.81 L394.5,231.40 L395.5,232.00 L396.5,232.62 L397.5,233.25 L398.5,233.90 L399.5,234.56 L400.5,235.23 L401.5,235.92 L402.5,236.63 L403.5,237.35 L404.5,238.09 L405.5,238.84 L406.5,239.61 L407.5,240.39 L408.5,241.19 L409.5,242.01 L410.5,242.84 L411.5,243.69 L412.5,244.56 L413.5,245.44 L414.5,246.34 L415.5,247.26 L416.5,248.20 L417.5,249.15 L418.5,250.12 L419.5,251.11 L420.5,252.12 L421.5,253.15 L422.5,254.19 L423.5,255.25 L424.5,256.33 L425.5,257.42 L426.5,258.53 L427.5,259.66 L428.5,260.80 L429.5,261.95 L430.5,263.12 L431.5,264.30 L432.5,265.49 L433.5,266.69 L434.5,267.91 L435.5,269.14 L436.5,270.38 L437.5,271.63 L438.5,272.89 L439.5,274.16 L440.5,275.44 L441.5,276.73 L442.5,278.03 L443.5,279.34 L444.5,280.65 L445.5,281.97 L446.5,283.29 L447.5,284.63 L448.5,285.96 L449.5,287.31 L450.5,288.65 L451.5,290.01 L452.5,291.36 L453.5,292.72 L454.5,294.08 L455.5,295.45 L456.5,296.81 L457.5,298.18 L458.5,299.55 L459.5,300.92 L460.5,302.29 L461.5,303.66 L462.5,305.03 L463.5,306.39 L464.5,307.76 L465.5,309.13 L466.5,310.49 L467.5,311.86 L468.5,313.22 L469.5,314.58 L470.5,315.94 L471.5,317.30 L472.5,318.66 L473.5,320.01 L474.5,321.36 L475.5,322.71 L476.5,324.05 L477.5,325.39 L478.5,326.73 L479.5,328.06 L480.5,329.39 L481.5,330.72 L482.5,332.04 L483.5,333.35 L484.5,334.66 L485.5,335.97 L486.5,337.27 L487.5,338.57 L488.5,339.86 L489.5,341.14 L490.5,342.42 L491.5,343.69 L492.5,344.96 L493.5,346.22 L494.5,347.47 L495.5,348.71 L496.5,349.95 L497.5,351.18 L498.5,352.40 L499.5,353.62 L500.5,354.83 L501.5,356.03 L502.5,357.22 L503.5,358.40 L504.5,359.58 L505.5,360.74 L506.5,361.90 L507.5,363.06 L508.5,364.20 L509.5,365.34 L510.5,366.46 L511.5,367.59 L512.5,368.70 L513.5,369.80 L514.5,370.90 L515.5,371.99 L516.5,373.08 L517.5,374.15 L518.5,375.22 L519.5,376.28 L520.5,377.33 L521.5,378.38 L522.5,379.42 L523.5,380.45 L524.5,381.47 L525.5,382.49 L526.5,383.50 L527.5,384.50 L528.5,385.49 L529.5,386.48 L530.5,387.46 L531.5,388.43 L532.5,389.40 L533.5,390.36 L534.5,391.31 L535.5,392.25 L536.5,393.19 L537.5,394.12 L538.5,395.04 L539.5,395.96 L540.5,396.87 L541.5,397.77 L542.5,398.67 L543.5,399.56 L544.5,400.44 L545.5,401.31 L546.5,402.18 L547.5,403.04 L548.5,403.90 L549.5,404.75 L550.5,405.59 L551.5,406.42 L552.5,407.25 L553.5,408.08 L554.5,408.89 L555.5,409.70 L556.5,410.50 L557.5,411.30 L558.5,412.09 L559.5,412.87 L560.5,413.65 L561.5,414.42 L562.5,415.18 L563.5,415.94 L564.5,416.69 L565.5,417.43 L566.5,418.17 L567.5,418.90 L568.5,419.63 L569.5,420.35 L570.5,421.06 L571.5,421.77 L572.5,422.47 L573.5,423.17 L574.5,423.86 L575.5,424.54 L576.5,425.22 L577.5,425.89 L578.5,426.55 L579.5,427.21 L580.5,427.87 L581.5,428.52 L582.5,429.16 L583.5,429.79 L584.5,430.42 L585.5,431.05 L586.5,431.67 L587.5,432.28 L588.5,432.89 L589.5,433.49 L590.5,434.09 L591.5,434.68 L592.5,435.26 L593.5,435.84 L594.5,436.42 L595.5,436.99 L596.5,437.55 L597.5,438.11 L598.5,438.66 L599.5,439.21 L600.5,439.75 L601.5,440.28 L602.5,440.81 L603.5,441.34 L604.5,441.86 L605.5,442.37 L606.5,442.88 L607.5,443.39 L608.5,443.89 L609.5,444.38 L610.5,444.87 L611.5,445.36 L612.5,445.84 L613.5,446.31 L614.5,446.78 L615.5,447.24 L616.5,447.70 L617.5,448.16 L618.5,448.61 L619.5,449.05 L620.5,449.49 L621.5,449.92 L622.5,450.35 L623.5,450.78 L624.5,451.20 L625.5,451.62 L626.5,452.03 L627.5,452.43 L628.5,452.84 L629.5,453.23 L630.5,453.63 L631.5,454.01 L632.5,454.40 L633.5,454.78 L634.5,455.15 L635.5,455.52 L636.5,455.89 L637.5,456.25 L638.5,456.61 L639.5,456.96 L640.5,457.31 L641.5,457.65 L642.5,457.99 L643.5,458.33 L644.5,458.66 L645.5,458.98 L646.5,459.31 L647.5,459.63 L648.5,459.94 L649.5,460.25 L650.5,460.56 L651.5,460.86 L652.5,461.16 L653.5,461.45 L654.5,461.74 L655.5,462.03 L656.5,462.31 L657.5,462.59 L658.5,462.87 L659.5,463.14 L660.5,463.40 L661.5,463.67 L662.5,463.93 L663.5,464.18 L664.5,464.44 L665.5,464.68 L666.5,464.93 L667.5,465.17 L668.5,465.41 L669.5,465.64 L670.5,465.87 L671.5,466.10 L672.1,466.10" stroke="#00cc00" stroke-width="1.95"/>
<path d="M295.5,214.16 L296.5,214.22 L297.5,214.29 L298.5,214.36 L299.5,214.43 L300.5,214.51 L301.5,214.59 L302.5,214.68 L303.5,214.77 L304.5,214.86 L305.5,214.96 L306.5,215.07 L307.5,215.18 L308.5,215.30 L309.5,215.42 L310.5,215.54 L311.5,215.67 L312.5,215.81 L313.5,215.96 L314.5,216.11 L315.5,216.26 L316.5,216.42 L317.5,216.59 L318.5,216.77 L319.5,216.95 L320.5,217.14 L321.5,217.33 L322.5,217.54 L323.5,217.75 L324.5,217.97 L325.5,218.19 L326.5,218.43 L327.5,218.67 L328.5,218.92 L329.5,219.18 L330.5,219.45 L331.5,219.72 L332.5,220.01 L333.5,220.30 L334.5,220.60 L335.5,220.91 L336.5,221.23 L337.5,221.56 L338.5,221.90 L339.5,222.25 L340.5,222.61 L341.5,222.98 L342.5,223.36 L343.5,223.75 L344.5,224.15 L345.5,224.57 L346.5,224.99 L347.5,225.42 L348.5,225.87 L349.5,226.32 L350.5,226.79 L351.5,227.27 L352.5,227.76 L353.5,228.26 L354.5,228.77 L355.5,229.30 L356.5,229.84 L357.5,230.39 L358.5,230.95 L359.5,231.53 L360.5,232.12 L361.5,232.72 L362.5,233.33 L363.5,233.96 L364.5,234.60 L365.5,235.25 L366.5,235.91 L367.5,236.59 L368.5,237.28 L369.5,237.97 L370.5,238.68 L371.5,239.40 L372.5,240.14 L373.5,240.88 L374.5,241.63 L375.5,242.40 L376.5,243.17 L377.5,243.96 L378.5,244.75 L379.5,245.55 L380.5,246.37 L381.5,247.19 L382.5,248.03 L383.5,248.87 L384.5,249.72 L385.5,250.58 L386.5,251.45 L387.5,252.33 L388.5,253.22 L389.5,254.12 L390.5,255.02 L391.5,255.93 L392.5,256.85 L393.5,257.78 L394.5,258.71 L395.5,259.66 L396.5,260.61 L397.5,261.57 L398.5,262.53 L399.5,263.50 L400.5,264.48 L401.5,265.46 L402.5,266.45 L403.5,267.45 L404.5,268.46 L405.5,269.46 L406.5,270.48 L407.5,271.50 L408.5,272.53 L409.5,273.56 L410.5,274.60 L411.5,275.64 L412.5,276.68 L413.5,277.73 L414.5,278.79 L415.5,279.85 L416.5,280.92 L417.5,281.98 L418.5,283.06 L419.5,284.13 L420.5,285.21 L421.5,286.30 L422.5,287.38 L423.5,288.47 L424.5,289.57 L425.5,290.66 L426.5,291.76 L427.5,292.86 L428.5,293.96 L429.5,295.07 L430.5,296.18 L431.5,297.29 L432.5,298.40 L433.5,299.51 L434.5,300.63 L435.5,301.74 L436.5,302.86 L437.5,303.98 L438.5,305.09 L439.5,306.21 L440.5,307.33 L441.5,308.45 L442.5,309.58 L443.5,310.70 L444.5,311.82 L445.5,312.94 L446.5,314.06 L447.5,315.18 L448.5,316.30 L449.5,317.41 L450.5,318.53 L451.5,319.65 L452.5,320.76 L453.5,321.87 L454.5,322.98 L455.5,324.09 L456.5,325.20 L457.5,326.31 L458.5,327.41 L459.5,328.51 L460.5,329.61 L461.5,330.71 L462.5,331.80 L463.5,332.89 L464.5,333.97 L465.5,335.06 L466.5,336.14 L467.5,337.21 L468.5,338.29 L469.5,339.35 L470.5,340.42 L471.5,341.48 L472.5,342.53 L473.5,343.59 L474.5,344.63 L475.5,345.67 L476.5,346.71 L477.5,347.74 L478.5,348.77 L479.5,349.79 L480.5,350.80 L481.5,351.81 L482.5,352.82 L483.5,353.81 L484.5,354.80 L485.5,355.79 L486.5,356.77 L487.5,357.74 L488.5,358.70 L489.5,359.66 L490.5,360.61 L491.5,361.56 L492.5,362.50 L493.5,363.43 L494.5,364.36 L495.5,365.28 L496.5,366.20 L497.5,367.11 L498.5,368.01 L499.5,368.91 L500.5,369.80 L501.5,370.69 L502.5,371.57 L503.5,372.44 L504.5,373.31 L505.5,374.17 L506.5,375.03 L507.5,375.88 L508.5,376.72 L509.5,377.56 L510.5,378.40 L511.5,379.23 L512.5,380.05 L513.5,380.87 L514.5,381.68 L515.5,382.49 L516.5,383.29 L517.5,384.09 L518.5,384.88 L519.5,385.66 L520.5,386.44 L521.5,387.22 L522.5,387.99 L523.5,388.75 L524.5,389.51 L525.5,390.27 L526.5,391.02 L527.5,391.76 L528.5,392.51 L529.5,393.24 L530.5,393.97 L531.5,394.70 L532.5,395.42 L533.5,396.13 L534.5,396.85 L535.5,397.55 L536.5,398.26 L537.5,398.95 L538.5,399.65 L539.5,400.34 L540.5,401.02 L541.5,401.70 L542.5,402.37 L543.5,403.05 L544.5,403.71 L545.5,404.38 L546.5,405.03 L547.5,405.69 L548.5,406.34 L549.5,406.98 L550.5,407.62 L551.5,408.26 L552.5,408.90 L553.5,409.53 L554.5,410.15 L555.5,410.77 L556.5,411.39 L557.5,412.00 L558.5,412.61 L559.5,413.22 L560.5,413.82 L561.5,414.42 L562.5,415.02 L563.5,415.61 L564.5,416.20 L565.5,416.78 L566.5,417.36 L567.5,417.94 L568.5,418.52 L569.5,419.09 L570.5,419.65 L571.5,420.22 L572.5,420.78 L573.5,421.34 L574.5,421.89 L575.5,422.44 L576.5,422.99 L577.5,423.53 L578.5,424.08 L579.5,424.61 L580.5,425.15 L581.5,425.68 L582.5,426.21 L583.5,426.74 L584.5,427.26 L585.5,427.78 L586.5,428.30 L587.5,428.82 L588.5,429.33 L589.5,429.84 L590.5,430.35 L591.5,430.85 L592.5,431.36 L593.5,431.86 L594.5,432.35 L595.5,432.85 L596.5,433.34 L597.5,433.83 L598.5,434.32 L599.5,434.81 L600.5,435.29 L601.5,435.77 L602.5,436.25 L603.5,436.73 L604.5,437.20 L605.5,437.67 L606.5,438.15 L607.5,438.61 L608.5,439.08 L609.5,439.55 L610.5,440.01 L611.5,440.47 L612.5,440.93 L613.5,441.39 L614.5,441.84 L615.5,442.29 L616.5,442.75 L617.5,443.20 L618.5,443.65 L619.5,444.09 L620.5,444.54 L621.5,444.98 L622.5,445.43 L623.5,445.87 L624.5,446.31 L625.5,446.75 L626.5,447.18 L627.5,447.62 L628.5,448.06 L629.5,448.49 L630.5,448.92 L631.5,449.35 L632.5,449.78 L633.5,450.21 L634.5,450.64 L635.5,451.07 L636.5,451.49 L637.5,451.92 L638.5,452.34 L639.5,452.77 L640.5,453.19 L641.5,453.61 L642.5,454.03 L643.5,454.45 L644.5,454.88 L645.5,455.29 L646.5,455.71 L647.5,456.13 L648.5,456.55 L649.5,456.97 L650.5,457.38 L651.5,457.80 L652.5,458.22 L653.5,458.63 L654.5,459.05 L655.5,459.46 L656.5,459.88 L657.5,460.29 L658.5,460.71 L659.5,461.12 L660.5,461.54 L661.5,461.95 L662.5,462.37 L663.5,462.78 L664.5,463.20 L665.5,463.61 L666.5,464.03 L667.5,464.44 L668.5,464.86 L669.5,465.27 L670.5,465.69 L671.5,466.11 L672.1,466.11" stroke="#00cc00" stroke-width="1.1" stroke-dasharray="2.20,10.47" stroke-dashoffset="175.02"/>
<path d="M286.5,214.17 L287.5,214.25 L288.5,214.34 L289.5,214.43 L290.5,214.53 L291.5,214.64 L292.5,214.75 L293.5,214.87 L294.5,215.00 L295.5,215.14 L296.5,215.29 L297.5,215.44 L298.5,215.61 L299.5,215.78 L300.5,215.96 L301.5,216.16 L302.5,216.36 L303.5,216.57 L304.5,216.79 L305.5,217.02 L306.5,217.25 L307.5,217.50 L308.5,217.76 L309.5,218.03 L310.5,218.30 L311.5,218.59 L312.5,218.88 L313.5,219.19 L314.5,219.50 L315.5,219.83 L316.5,220.16 L317.5,220.51 L318.5,220.86 L319.5,221.23 L320.5,221.60 L321.5,221.99 L322.5,222.38 L323.5,222.79 L324.5,223.20 L325.5,223.63 L326.5,224.06 L327.5,224.51 L328.5,224.96 L329.5,225.43 L330.5,225.90 L331.5,226.39 L332.5,226.89 L333.5,227.40 L334.5,227.91 L335.5,228.44 L336.5,228.98 L337.5,229.53 L338.5,230.08 L339.5,230.65 L340.5,231.22 L341.5,231.81 L342.5,232.40 L343.5,233.00 L344.5,233.62 L345.5,234.24 L346.5,234.87 L347.5,235.51 L348.5,236.15 L349.5,236.81 L350.5,237.47 L351.5,238.14 L352.5,238.82 L353.5,239.51 L354.5,240.21 L355.5,240.91 L356.5,241.62 L357.5,242.34 L358.5,243.07 L359.5,243.81 L360.5,244.55 L361.5,245.30 L362.5,246.05 L363.5,246.82 L364.5,247.59 L365.5,248.36 L366.5,249.15 L367.5,249.94 L368.5,250.73 L369.5,251.54 L370.5,252.35 L371.5,253.16 L372.5,253.99 L373.5,254.81 L374.5,255.65 L375.5,256.49 L376.5,257.33 L377.5,258.19 L378.5,259.04 L379.5,259.90 L380.5,260.77 L381.5,261.65 L382.5,262.52 L383.5,263.41 L384.5,264.29 L385.5,265.19 L386.5,266.08 L387.5,266.99 L388.5,267.89 L389.5,268.80 L390.5,269.72 L391.5,270.64 L392.5,271.56 L393.5,272.49 L394.5,273.42 L395.5,274.35 L396.5,275.29 L397.5,276.23 L398.5,277.18 L399.5,278.13 L400.5,279.08 L401.5,280.04 L402.5,280.99 L403.5,281.96 L404.5,282.92 L405.5,283.89 L406.5,284.86 L407.5,285.83 L408.5,286.80 L409.5,287.78 L410.5,288.76 L411.5,289.74 L412.5,290.72 L413.5,291.71 L414.5,292.70 L415.5,293.69 L416.5,294.68 L417.5,295.67 L418.5,296.66 L419.5,297.66 L420.5,298.65 L421.5,299.65 L422.5,300.65 L423.5,301.65 L424.5,302.65 L425.5,303.65 L426.5,304.65 L427.5,305.65 L428.5,306.65 L429.5,307.65 L430.5,308.66 L431.5,309.66 L432.5,310.66 L433.5,311.66 L434.5,312.67 L435.5,313.67 L436.5,314.67 L437.5,315.67 L438.5,316.67 L439.5,317.67 L440.5,318.67 L441.5,319.67 L442.5,320.66 L443.5,321.66 L444.5,322.65 L445.5,323.65 L446.5,324.64 L447.5,325.63 L448.5,326.62 L449.5,327.60 L450.5,328.59 L451.5,329.57 L452.5,330.55 L453.5,331.53 L454.5,332.51 L455.5,333.48 L456.5,334.45 L457.5,335.42 L458.5,336.39 L459.5,337.35 L460.5,338.31 L461.5,339.27 L462.5,340.22 L463.5,341.17 L464.5,342.12 L465.5,343.07 L466.5,344.01 L467.5,344.95 L468.5,345.88 L469.5,346.81 L470.5,347.74 L471.5,348.66 L472.5,349.58 L473.5,350.49 L474.5,351.40 L475.5,352.30 L476.5,353.20 L477.5,354.10 L478.5,354.99 L479.5,355.88 L480.5,356.76 L481.5,357.64 L482.5,358.51 L483.5,359.37 L484.5,360.23 L485.5,361.09 L486.5,361.94 L487.5,362.78 L488.5,363.62 L489.5,364.46 L490.5,365.28 L491.5,366.11 L492.5,366.92 L493.5,367.74 L494.5,368.54 L495.5,369.35 L496.5,370.14 L497.5,370.94 L498.5,371.72 L499.5,372.51 L500.5,373.28 L501.5,374.06 L502.5,374.83 L503.5,375.59 L504.5,376.35 L505.5,377.10 L506.5,377.85 L507.5,378.60 L508.5,379.34 L509.5,380.07 L510.5,380.81 L511.5,381.53 L512.5,382.26 L513.5,382.98 L514.5,383.69 L515.5,384.40 L516.5,385.11 L517.5,385.81 L518.5,386.51 L519.5,387.21 L520.5,387.90 L521.5,388.58 L522.5,389.27 L523.5,389.95 L524.5,390.62 L525.5,391.30 L526.5,391.96 L527.5,392.63 L528.5,393.29 L529.5,393.95 L530.5,394.60 L531.5,395.26 L532.5,395.90 L533.5,396.55 L534.5,397.19 L535.5,397.83 L536.5,398.47 L537.5,399.10 L538.5,399.73 L539.5,400.35 L540.5,400.98 L541.5,401.60 L542.5,402.22 L543.5,402.83 L544.5,403.45 L545.5,404.05 L546.5,404.66 L547.5,405.27 L548.5,405.87 L549.5,406.47 L550.5,407.07 L551.5,407.66 L552.5,408.25 L553.5,408.84 L554.5,409.43 L555.5,410.02 L556.5,410.60 L557.5,411.18 L558.5,411.76 L559.5,412.34 L560.5,412.91 L561.5,413.49 L562.5,414.06 L563.5,414.63 L564.5,415.20 L565.5,415.77 L566.5,416.33 L567.5,416.89 L568.5,417.46 L569.5,418.02 L570.5,418.57 L571.5,419.13 L572.5,419.69 L573.5,420.24 L574.5,420.80 L575.5,421.35 L576.5,421.90 L577.5,422.45 L578.5,423.00 L579.5,423.54 L580.5,424.09 L581.5,424.64 L582.5,425.18 L583.5,425.73 L584.5,426.27 L585.5,426.81 L586.5,427.35 L587.5,427.89 L588.5,428.44 L589.5,428.98 L590.5,429.51 L591.5,430.05 L592.5,430.59 L593.5,431.13 L594.5,431.66 L595.5,432.20 L596.5,432.73 L597.5,433.27 L598.5,433.80 L599.5,434.33 L600.5,434.86 L601.5,435.39 L602.5,435.92 L603.5,436.44 L604.5,436.97 L605.5,437.49 L606.5,438.01 L607.5,438.53 L608.5,439.05 L609.5,439.57 L610.5,440.08 L611.5,440.60 L612.5,441.11 L613.5,441.62 L614.5,442.12 L615.5,442.63 L616.5,443.13 L617.5,443.63 L618.5,444.13 L619.5,444.63 L620.5,445.13 L621.5,445.62 L622.5,446.11 L623.5,446.60 L624.5,447.08 L625.5,447.56 L626.5,448.04 L627.5,448.52 L628.5,449.00 L629.5,449.47 L630.5,449.94 L631.5,450.40 L632.5,450.87 L633.5,451.33 L634.5,451.79 L635.5,452.24 L636.5,452.69 L637.5,453.14 L638.5,453.58 L639.5,454.03 L640.5,454.46 L641.5,454.90 L642.5,455.33 L643.5,455.76 L644.5,456.18 L645.5,456.60 L646.5,457.02 L647.5,457.43 L648.5,457.84 L649.5,458.25 L650.5,458.65 L651.5,459.05 L652.5,459.44 L653.5,459.83 L654.5,460.22 L655.5,460.60 L656.5,460.98 L657.5,461.35 L658.5,461.72 L659.5,462.08 L660.5,462.44 L661.5,462.80 L662.5,463.15 L663.5,463.50 L664.5,463.84 L665.5,464.18 L666.5,464.51 L667.5,464.84 L668.5,465.16 L669.5,465.48 L670.5,465.79 L671.5,466.10 L672.1,466.10" stroke="#00cc00" stroke-width="1.1" stroke-dasharray="2.20,15.98,22.04,16.53" stroke-dashoffset="166.02"/>
<path d="M267.5,214.14 L268.5,214.22 L269.5,214.31 L270.5,214.40 L271.5,214.50 L272.5,214.60 L273.5,214.70 L274.5,214.82 L275.5,214.93 L276.5,215.06 L277.5,215.18 L278.5,215.32 L279.5,215.45 L280.5,215.60 L281.5,215.75 L282.5,215.90 L283.5,216.07 L284.5,216.23 L285.5,216.41 L286.5,216.58 L287.5,216.77 L288.5,216.96 L289.5,217.16 L290.5,217.36 L291.5,217.57 L292.5,217.78 L293.5,218.01 L294.5,218.23 L295.5,218.47 L296.5,218.71 L297.5,218.96 L298.5,219.21 L299.5,219.47 L300.5,219.74 L301.5,220.02 L302.5,220.30 L303.5,220.59 L304.5,220.88 L305.5,221.18 L306.5,221.49 L307.5,221.81 L308.5,222.13 L309.5,222.46 L310.5,222.80 L311.5,223.15 L312.5,223.50 L313.5,223.86 L314.5,224.23 L315.5,224.60 L316.5,224.99 L317.5,225.38 L318.5,225.78 L319.5,226.18 L320.5,226.60 L321.5,227.02 L322.5,227.45 L323.5,227.89 L324.5,228.33 L325.5,228.79 L326.5,229.25 L327.5,229.72 L328.5,230.20 L329.5,230.69 L330.5,231.19 L331.5,231.69 L332.5,232.20 L333.5,232.73 L334.5,233.26 L335.5,233.80 L336.5,234.34 L337.5,234.90 L338.5,235.47 L339.5,236.04 L340.5,236.63 L341.5,237.22 L342.5,237.82 L343.5,238.43 L344.5,239.06 L345.5,239.69 L346.5,240.32 L347.5,240.97 L348.5,241.63 L349.5,242.30 L350.5,242.98 L351.5,243.67 L352.5,244.36 L353.5,245.07 L354.5,245.78 L355.5,246.50 L356.5,247.24 L357.5,247.98 L358.5,248.72 L359.5,249.48 L360.5,250.24 L361.5,251.02 L362.5,251.80 L363.5,252.58 L364.5,253.38 L365.5,254.18 L366.5,254.99 L367.5,255.81 L368.5,256.63 L369.5,257.46 L370.5,258.29 L371.5,259.13 L372.5,259.98 L373.5,260.83 L374.5,261.69 L375.5,262.56 L376.5,263.43 L377.5,264.30 L378.5,265.18 L379.5,266.07 L380.5,266.96 L381.5,267.85 L382.5,268.75 L383.5,269.65 L384.5,270.56 L385.5,271.47 L386.5,272.39 L387.5,273.31 L388.5,274.23 L389.5,275.15 L390.5,276.08 L391.5,277.01 L392.5,277.95 L393.5,278.89 L394.5,279.83 L395.5,280.77 L396.5,281.71 L397.5,282.66 L398.5,283.61 L399.5,284.56 L400.5,285.51 L401.5,286.46 L402.5,287.42 L403.5,288.37 L404.5,289.33 L405.5,290.28 L406.5,291.24 L407.5,292.20 L408.5,293.16 L409.5,294.12 L410.5,295.07 L411.5,296.03 L412.5,296.99 L413.5,297.95 L414.5,298.90 L415.5,299.86 L416.5,300.81 L417.5,301.77 L418.5,302.72 L419.5,303.67 L420.5,304.62 L421.5,305.57 L422.5,306.51 L423.5,307.46 L424.5,308.40 L425.5,309.34 L426.5,310.29 L427.5,311.22 L428.5,312.16 L429.5,313.10 L430.5,314.03 L431.5,314.97 L432.5,315.90 L433.5,316.83 L434.5,317.75 L435.5,318.68 L436.5,319.60 L437.5,320.52 L438.5,321.44 L439.5,322.36 L440.5,323.28 L441.5,324.19 L442.5,325.11 L443.5,326.02 L444.5,326.93 L445.5,327.83 L446.5,328.74 L447.5,329.64 L448.5,330.54 L449.5,331.44 L450.5,332.33 L451.5,333.23 L452.5,334.12 L453.5,335.01 L454.5,335.89 L455.5,336.78 L456.5,337.66 L457.5,338.54 L458.5,339.42 L459.5,340.29 L460.5,341.16 L461.5,342.03 L462.5,342.90 L463.5,343.76 L464.5,344.63 L465.5,345.49 L466.5,346.34 L467.5,347.20 L468.5,348.05 L469.5,348.90 L470.5,349.74 L471.5,350.59 L472.5,351.43 L473.5,352.27 L474.5,353.10 L475.5,353.93 L476.5,354.76 L477.5,355.59 L478.5,356.41 L479.5,357.23 L480.5,358.05 L481.5,358.86 L482.5,359.67 L483.5,360.48 L484.5,361.29 L485.5,362.09 L486.5,362.89 L487.5,363.68 L488.5,364.47 L489.5,365.26 L490.5,366.05 L491.5,366.83 L492.5,367.61 L493.5,368.39 L494.5,369.16 L495.5,369.93 L496.5,370.70 L497.5,371.46 L498.5,372.22 L499.5,372.98 L500.5,373.74 L501.5,374.49 L502.5,375.24 L503.5,375.98 L504.5,376.73 L505.5,377.47 L506.5,378.20 L507.5,378.94 L508.5,379.67 L509.5,380.40 L510.5,381.12 L511.5,381.84 L512.5,382.56 L513.5,383.28 L514.5,383.99 L515.5,384.70 L516.5,385.41 L517.5,386.11 L518.5,386.82 L519.5,387.52 L520.5,388.21 L521.5,388.90 L522.5,389.60 L523.5,390.28 L524.5,390.97 L525.5,391.65 L526.5,392.33 L527.5,393.01 L528.5,393.68 L529.5,394.35 L530.5,395.02 L531.5,395.68 L532.5,396.35 L533.5,397.01 L534.5,397.66 L535.5,398.32 L536.5,398.97 L537.5,399.62 L538.5,400.26 L539.5,400.91 L540.5,401.55 L541.5,402.19 L542.5,402.82 L543.5,403.46 L544.5,404.09 L545.5,404.71 L546.5,405.34 L547.5,405.96 L548.5,406.58 L549.5,407.20 L550.5,407.81 L551.5,408.43 L552.5,409.04 L553.5,409.64 L554.5,410.25 L555.5,410.85 L556.5,411.45 L557.5,412.05 L558.5,412.64 L559.5,413.23 L560.5,413.82 L561.5,414.41 L562.5,414.99 L563.5,415.58 L564.5,416.16 L565.5,416.73 L566.5,417.31 L567.5,417.88 L568.5,418.45 L569.5,419.02 L570.5,419.58 L571.5,420.15 L572.5,420.71 L573.5,421.27 L574.5,421.82 L575.5,422.38 L576.5,422.93 L577.5,423.48 L578.5,424.02 L579.5,424.57 L580.5,425.11 L581.5,425.65 L582.5,426.19 L583.5,426.72 L584.5,427.26 L585.5,427.79 L586.5,428.32 L587.5,428.84 L588.5,429.37 L589.5,429.89 L590.5,430.41 L591.5,430.93 L592.5,431.44 L593.5,431.95 L594.5,432.47 L595.5,432.97 L596.5,433.48 L597.5,433.99 L598.5,434.49 L599.5,434.99 L600.5,435.49 L601.5,435.98 L602.5,436.48 L603.5,436.97 L604.5,437.46 L605.5,437.95 L606.5,438.43 L607.5,438.92 L608.5,439.40 L609.5,439.88 L610.5,440.36 L611.5,440.83 L612.5,441.31 L613.5,441.78 L614.5,442.25 L615.5,442.72 L616.5,443.18 L617.5,443.65 L618.5,444.11 L619.5,444.57 L620.5,445.03 L621.5,445.49 L622.5,445.94 L623.5,446.39 L624.5,446.84 L625.5,447.29 L626.5,447.74 L627.5,448.19 L628.5,448.63 L629.5,449.07 L630.5,449.51 L631.5,449.95 L632.5,450.39 L633.5,450.82 L634.5,451.25 L635.5,451.68 L636.5,452.11 L637.5,452.54 L638.5,452.97 L639.5,453.39 L640.5,453.81 L641.5,454.23 L642.5,454.65 L643.5,455.07 L644.5,455.49 L645.5,455.90 L646.5,456.31 L647.5,456.72 L648.5,457.13 L649.5,457.54 L650.5,457.94 L651.5,458.35 L652.5,458.75 L653.5,459.15 L654.5,459.55 L655.5,459.95 L656.5,460.34 L657.5,460.74 L658.5,461.13 L659.5,461.52 L660.5,461.91 L661.5,462.30 L662.5,462.69 L663.5,463.07 L664.5,463.46 L665.5,463.84 L666.5,464.22 L667.5,464.60 L668.5,464.98 L669.5,465.36 L670.5,465.73 L671.5,466.10 L672.1,466.10" stroke="#00cc00" stroke-width="1.1" stroke-dasharray="22.04,8.27" stroke-dashoffset="147.02"/>
</g>
<rect x="188.2" y="364.9" width="16.7" height="16.1" fill="#ff0000"/>
<rect x="188.2" y="383.3" width="16.7" height="16.3" fill="#0000ff"/>
<rect x="188.2" y="402.0" width="16.7" height="16.3" fill="#00cc00"/>
<g font-family="Liberation Serif, serif" font-style="italic" font-size="21px" fill="#000" style="filter:grayscale(1)">
<text transform="translate(110.10,167.20) scale(1.005,1.07)" text-anchor="end" xml:space="preserve">1</text>
<text transform="translate(109.90,201.32) scale(1.005,1.07)" text-anchor="end" xml:space="preserve">0.5</text>
<text transform="translate(109.60,280.53) scale(1.005,1.07)" text-anchor="end" xml:space="preserve">0.1</text>
<text transform="translate(109.90,314.65) scale(1.005,1.07)" text-anchor="end" xml:space="preserve">0.05</text>
<text transform="translate(109.60,393.87) scale(1.005,1.07)" text-anchor="end" xml:space="preserve">0.01</text>
<text transform="translate(109.90,427.98) scale(1.005,1.07)" text-anchor="end" xml:space="preserve">0.005</text>
<text transform="translate(221.70,527.80) scale(1.005,1.07)" text-anchor="middle" xml:space="preserve">0.2</text>
<text transform="translate(334.15,527.80) scale(1.005,1.07)" text-anchor="middle" xml:space="preserve">0.4</text>
<text transform="translate(446.60,527.80) scale(1.005,1.07)" text-anchor="middle" xml:space="preserve">0.6</text>
<text transform="translate(559.05,527.80) scale(1.005,1.07)" text-anchor="middle" xml:space="preserve">0.8</text>
<text transform="translate(671.50,527.80) scale(1.005,1.07)" text-anchor="middle" xml:space="preserve">1</text>
<text transform="translate(396.2,555.7) scale(1.0,0.93)" text-anchor="middle">a</text>
<text transform="translate(49.2,348.95) rotate(-90) scale(1.0,0.99)" font-style="italic">w</text>
<text transform="translate(47.9,334.95) rotate(-90) scale(1.0,0.9)" font-style="normal">(</text>
<text transform="translate(49.2,327.95) rotate(-90) scale(1.0,0.99)" font-style="italic">a</text>
<text transform="translate(47.9,317.45) rotate(-90) scale(1.0,0.9)" font-style="normal">)</text>
<text transform="translate(210.40,380.20) scale(0.93,0.95)" xml:space="preserve">ν</text>
<text transform="translate(222.40,381.90) scale(1.16,1.0)" xml:space="preserve">−</text>
<text transform="translate(237.30,380.20) scale(1.04,1.035)" xml:space="preserve">C</text>
<text transform="translate(251.95,380.20) scale(1.04,0.925)" xml:space="preserve">ase</text>
<text transform="translate(285.80,380.20) scale(1.0,1.07)" xml:space="preserve">01</text>
<text transform="translate(210.40,398.70) scale(0.93,0.95)" xml:space="preserve">ν</text>
<text transform="translate(222.40,400.40) scale(1.16,1.0)" xml:space="preserve">−</text>
<text transform="translate(237.30,398.70) scale(1.04,1.035)" xml:space="preserve">C</text>
<text transform="translate(251.95,398.70) scale(1.04,0.925)" xml:space="preserve">ase</text>
<text transform="translate(285.80,398.70) scale(1.0,1.07)" xml:space="preserve">02</text>
<text transform="translate(210.40,417.20) scale(0.93,0.95)" xml:space="preserve">ν</text>
<text transform="translate(222.40,418.90) scale(1.16,1.0)" xml:space="preserve">−</text>
<text transform="translate(237.30,417.20) scale(1.04,1.035)" xml:space="preserve">C</text>
<text transform="translate(251.95,417.20) scale(1.04,0.925)" xml:space="preserve">ase</text>
<text transform="translate(285.80,417.20) scale(1.0,1.07)" xml:space="preserve">03</text>
</g>
</svg>
</body></html>
